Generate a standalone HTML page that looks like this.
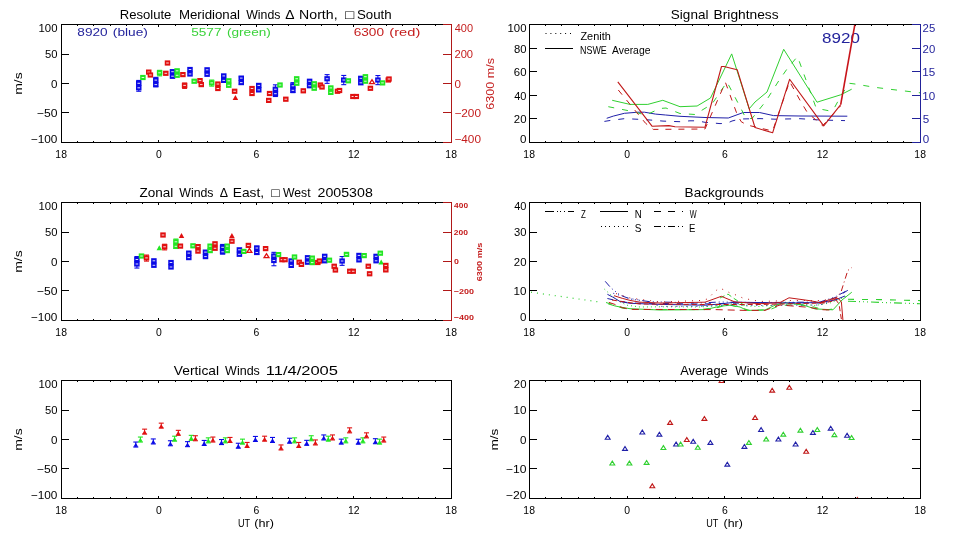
<!DOCTYPE html>
<html><head><meta charset="utf-8"><title>Resolute Winds</title>
<style>
html,body{margin:0;padding:0;background:#fff;}
svg{display:block;}
text{font-family:"Liberation Sans","DejaVu Sans",sans-serif;}
</style></head>
<body>
<svg width="960" height="540" viewBox="0 0 960 540">
<rect width="960" height="540" fill="#fff"/>
<rect x="138.25" y="80.40" width="1" height="10.80" fill="#0a0ae6"/>
<rect x="136.25" y="79.90" width="5" height="1.1" fill="#0a0ae6"/>
<rect x="136.25" y="90.70" width="5" height="1.1" fill="#0a0ae6"/>
<rect x="136.00" y="80.70" width="5.50" height="5.20" fill="#0a0ae6"/>
<rect x="137.45" y="82.80" width="2.6" height="1" fill="#fff" opacity="0.85"/>
<rect x="136.00" y="85.20" width="5.50" height="5.20" fill="#0a0ae6"/>
<rect x="137.45" y="87.30" width="2.6" height="1" fill="#fff" opacity="0.85"/>
<rect x="140.15" y="74.90" width="5.50" height="5.20" fill="#22e622"/>
<rect x="141.60" y="77.00" width="2.6" height="1" fill="#fff" opacity="0.85"/>
<rect x="146.00" y="69.50" width="5.50" height="5.20" fill="#e01010"/>
<rect x="147.45" y="71.60" width="2.6" height="1" fill="#fff" opacity="0.85"/>
<rect x="147.65" y="72.40" width="5.50" height="5.20" fill="#e01010"/>
<rect x="149.10" y="74.50" width="2.6" height="1" fill="#fff" opacity="0.85"/>
<rect x="155.30" y="77.30" width="1" height="9.42" fill="#0a0ae6"/>
<rect x="153.30" y="76.80" width="5" height="1.1" fill="#0a0ae6"/>
<rect x="153.30" y="86.22" width="5" height="1.1" fill="#0a0ae6"/>
<rect x="153.05" y="77.50" width="5.50" height="5.20" fill="#0a0ae6"/>
<rect x="154.50" y="79.60" width="2.6" height="1" fill="#fff" opacity="0.85"/>
<rect x="153.05" y="82.00" width="5.50" height="5.20" fill="#0a0ae6"/>
<rect x="154.50" y="84.10" width="2.6" height="1" fill="#fff" opacity="0.85"/>
<rect x="159.10" y="70.30" width="1" height="5.50" fill="#22e622"/>
<rect x="157.10" y="69.80" width="5" height="1.1" fill="#22e622"/>
<rect x="157.10" y="75.30" width="5" height="1.1" fill="#22e622"/>
<rect x="156.85" y="70.20" width="5.50" height="5.20" fill="#22e622"/>
<rect x="158.30" y="72.30" width="2.6" height="1" fill="#fff" opacity="0.85"/>
<rect x="163.05" y="70.70" width="5.50" height="5.20" fill="#e01010"/>
<rect x="164.50" y="72.80" width="2.6" height="1" fill="#fff" opacity="0.85"/>
<rect x="164.75" y="60.40" width="5.50" height="5.20" fill="#e01010"/>
<rect x="166.20" y="62.50" width="2.6" height="1" fill="#fff" opacity="0.85"/>
<rect x="172.00" y="70.00" width="1" height="7.88" fill="#0a0ae6"/>
<rect x="170.00" y="69.50" width="5" height="1.1" fill="#0a0ae6"/>
<rect x="170.00" y="77.38" width="5" height="1.1" fill="#0a0ae6"/>
<rect x="169.75" y="69.10" width="5.50" height="5.20" fill="#0a0ae6"/>
<rect x="171.20" y="71.20" width="2.6" height="1" fill="#fff" opacity="0.85"/>
<rect x="169.75" y="73.60" width="5.50" height="5.20" fill="#0a0ae6"/>
<rect x="171.20" y="75.70" width="2.6" height="1" fill="#fff" opacity="0.85"/>
<rect x="174.35" y="68.20" width="5.50" height="5.20" fill="#22e622"/>
<rect x="175.80" y="70.30" width="2.6" height="1" fill="#fff" opacity="0.85"/>
<rect x="174.35" y="72.70" width="5.50" height="5.20" fill="#22e622"/>
<rect x="175.80" y="74.80" width="2.6" height="1" fill="#fff" opacity="0.85"/>
<rect x="180.15" y="72.00" width="5.50" height="5.20" fill="#e01010"/>
<rect x="181.60" y="74.10" width="2.6" height="1" fill="#fff" opacity="0.85"/>
<rect x="187.25" y="66.90" width="5.50" height="5.20" fill="#0a0ae6"/>
<rect x="188.70" y="69.00" width="2.6" height="1" fill="#fff" opacity="0.85"/>
<rect x="187.25" y="71.40" width="5.50" height="5.20" fill="#0a0ae6"/>
<rect x="188.70" y="73.50" width="2.6" height="1" fill="#fff" opacity="0.85"/>
<rect x="184.10" y="83.00" width="1" height="5.36" fill="#e01010"/>
<rect x="182.10" y="82.50" width="5" height="1.1" fill="#e01010"/>
<rect x="182.10" y="87.86" width="5" height="1.1" fill="#e01010"/>
<rect x="181.85" y="82.80" width="5.50" height="5.20" fill="#e01010"/>
<rect x="183.30" y="84.90" width="2.6" height="1" fill="#fff" opacity="0.85"/>
<rect x="191.45" y="78.65" width="5.50" height="5.20" fill="#22e622"/>
<rect x="192.90" y="80.75" width="2.6" height="1" fill="#fff" opacity="0.85"/>
<rect x="197.25" y="78.00" width="5.50" height="5.20" fill="#e01010"/>
<rect x="198.70" y="80.10" width="2.6" height="1" fill="#fff" opacity="0.85"/>
<rect x="198.50" y="82.00" width="5.50" height="5.20" fill="#e01010"/>
<rect x="199.95" y="84.10" width="2.6" height="1" fill="#fff" opacity="0.85"/>
<rect x="204.35" y="67.20" width="5.50" height="5.20" fill="#0a0ae6"/>
<rect x="205.80" y="69.30" width="2.6" height="1" fill="#fff" opacity="0.85"/>
<rect x="204.35" y="71.70" width="5.50" height="5.20" fill="#0a0ae6"/>
<rect x="205.80" y="73.80" width="2.6" height="1" fill="#fff" opacity="0.85"/>
<rect x="211.20" y="80.00" width="1" height="6.06" fill="#22e622"/>
<rect x="209.20" y="79.50" width="5" height="1.1" fill="#22e622"/>
<rect x="209.20" y="85.56" width="5" height="1.1" fill="#22e622"/>
<rect x="208.95" y="80.30" width="5.50" height="5.20" fill="#22e622"/>
<rect x="210.40" y="82.40" width="2.6" height="1" fill="#fff" opacity="0.85"/>
<rect x="215.15" y="81.40" width="5.50" height="5.20" fill="#e01010"/>
<rect x="216.60" y="83.50" width="2.6" height="1" fill="#fff" opacity="0.85"/>
<rect x="215.15" y="85.90" width="5.50" height="5.20" fill="#e01010"/>
<rect x="216.60" y="88.00" width="2.6" height="1" fill="#fff" opacity="0.85"/>
<rect x="221.00" y="73.30" width="5.50" height="5.20" fill="#0a0ae6"/>
<rect x="222.45" y="75.40" width="2.6" height="1" fill="#fff" opacity="0.85"/>
<rect x="221.00" y="77.80" width="5.50" height="5.20" fill="#0a0ae6"/>
<rect x="222.45" y="79.90" width="2.6" height="1" fill="#fff" opacity="0.85"/>
<rect x="226.00" y="78.20" width="5.50" height="5.20" fill="#22e622"/>
<rect x="227.45" y="80.30" width="2.6" height="1" fill="#fff" opacity="0.85"/>
<rect x="226.00" y="82.70" width="5.50" height="5.20" fill="#22e622"/>
<rect x="227.45" y="84.80" width="2.6" height="1" fill="#fff" opacity="0.85"/>
<rect x="231.85" y="88.65" width="5.50" height="5.20" fill="#e01010"/>
<rect x="233.30" y="90.75" width="2.6" height="1" fill="#fff" opacity="0.85"/>
<polygon points="232.65,100.00 238.15,100.00 235.40,95.00" fill="#e01010"/>
<rect x="240.75" y="76.80" width="1" height="7.32" fill="#0a0ae6"/>
<rect x="238.75" y="76.30" width="5" height="1.1" fill="#0a0ae6"/>
<rect x="238.75" y="83.62" width="5" height="1.1" fill="#0a0ae6"/>
<rect x="238.50" y="75.50" width="5.50" height="5.20" fill="#0a0ae6"/>
<rect x="239.95" y="77.60" width="2.6" height="1" fill="#fff" opacity="0.85"/>
<rect x="238.50" y="80.00" width="5.50" height="5.20" fill="#0a0ae6"/>
<rect x="239.95" y="82.10" width="2.6" height="1" fill="#fff" opacity="0.85"/>
<rect x="249.25" y="85.90" width="5.50" height="5.20" fill="#e01010"/>
<rect x="250.70" y="88.00" width="2.6" height="1" fill="#fff" opacity="0.85"/>
<rect x="249.25" y="90.90" width="5.50" height="5.20" fill="#e01010"/>
<rect x="250.70" y="93.00" width="2.6" height="1" fill="#fff" opacity="0.85"/>
<rect x="256.00" y="82.80" width="5.50" height="5.20" fill="#0a0ae6"/>
<rect x="257.45" y="84.90" width="2.6" height="1" fill="#fff" opacity="0.85"/>
<rect x="256.00" y="87.30" width="5.50" height="5.20" fill="#0a0ae6"/>
<rect x="257.45" y="89.40" width="2.6" height="1" fill="#fff" opacity="0.85"/>
<rect x="266.85" y="90.90" width="5.50" height="5.20" fill="#e01010"/>
<rect x="268.30" y="93.00" width="2.6" height="1" fill="#fff" opacity="0.85"/>
<rect x="266.00" y="97.80" width="5.50" height="5.20" fill="#e01010"/>
<rect x="267.45" y="99.90" width="2.6" height="1" fill="#fff" opacity="0.85"/>
<rect x="274.90" y="84.80" width="1" height="11.66" fill="#0a0ae6"/>
<rect x="272.90" y="84.30" width="5" height="1.1" fill="#0a0ae6"/>
<rect x="272.90" y="95.96" width="5" height="1.1" fill="#0a0ae6"/>
<rect x="272.65" y="86.60" width="5.50" height="5.20" fill="#0a0ae6"/>
<rect x="274.10" y="88.70" width="2.6" height="1" fill="#fff" opacity="0.85"/>
<rect x="272.65" y="91.10" width="5.50" height="5.20" fill="#0a0ae6"/>
<rect x="274.10" y="93.20" width="2.6" height="1" fill="#fff" opacity="0.85"/>
<rect x="277.25" y="82.40" width="5.50" height="5.20" fill="#22e622"/>
<rect x="278.70" y="84.50" width="2.6" height="1" fill="#fff" opacity="0.85"/>
<rect x="283.05" y="96.60" width="5.50" height="5.20" fill="#e01010"/>
<rect x="284.50" y="98.70" width="2.6" height="1" fill="#fff" opacity="0.85"/>
<rect x="292.40" y="82.60" width="1" height="9.98" fill="#0a0ae6"/>
<rect x="290.40" y="82.10" width="5" height="1.1" fill="#0a0ae6"/>
<rect x="290.40" y="92.08" width="5" height="1.1" fill="#0a0ae6"/>
<rect x="290.15" y="83.20" width="5.50" height="5.20" fill="#0a0ae6"/>
<rect x="291.60" y="85.30" width="2.6" height="1" fill="#fff" opacity="0.85"/>
<rect x="290.15" y="87.70" width="5.50" height="5.20" fill="#0a0ae6"/>
<rect x="291.60" y="89.80" width="2.6" height="1" fill="#fff" opacity="0.85"/>
<rect x="293.95" y="76.15" width="5.50" height="5.20" fill="#22e622"/>
<rect x="295.40" y="78.25" width="2.6" height="1" fill="#fff" opacity="0.85"/>
<rect x="293.95" y="80.65" width="5.50" height="5.20" fill="#22e622"/>
<rect x="295.40" y="82.75" width="2.6" height="1" fill="#fff" opacity="0.85"/>
<rect x="300.55" y="88.20" width="5.50" height="5.20" fill="#e01010"/>
<rect x="302.00" y="90.30" width="2.6" height="1" fill="#fff" opacity="0.85"/>
<rect x="306.85" y="78.65" width="5.50" height="5.20" fill="#0a0ae6"/>
<rect x="308.30" y="80.75" width="2.6" height="1" fill="#fff" opacity="0.85"/>
<rect x="306.85" y="83.15" width="5.50" height="5.20" fill="#0a0ae6"/>
<rect x="308.30" y="85.25" width="2.6" height="1" fill="#fff" opacity="0.85"/>
<rect x="311.45" y="81.15" width="5.50" height="5.20" fill="#22e622"/>
<rect x="312.90" y="83.25" width="2.6" height="1" fill="#fff" opacity="0.85"/>
<rect x="311.45" y="85.65" width="5.50" height="5.20" fill="#22e622"/>
<rect x="312.90" y="87.75" width="2.6" height="1" fill="#fff" opacity="0.85"/>
<rect x="317.65" y="82.40" width="5.50" height="5.20" fill="#e01010"/>
<rect x="319.10" y="84.50" width="2.6" height="1" fill="#fff" opacity="0.85"/>
<rect x="319.25" y="84.40" width="5.50" height="5.20" fill="#e01010"/>
<rect x="320.70" y="86.50" width="2.6" height="1" fill="#fff" opacity="0.85"/>
<rect x="326.60" y="74.60" width="1" height="8.70" fill="#0a0ae6"/>
<rect x="324.60" y="74.10" width="5" height="1.1" fill="#0a0ae6"/>
<rect x="324.60" y="82.80" width="5" height="1.1" fill="#0a0ae6"/>
<rect x="324.35" y="76.15" width="5.50" height="5.20" fill="#0a0ae6"/>
<rect x="325.80" y="78.25" width="2.6" height="1" fill="#fff" opacity="0.85"/>
<rect x="328.05" y="85.30" width="5.50" height="5.20" fill="#22e622"/>
<rect x="329.50" y="87.40" width="2.6" height="1" fill="#fff" opacity="0.85"/>
<rect x="328.05" y="89.80" width="5.50" height="5.20" fill="#22e622"/>
<rect x="329.50" y="91.90" width="2.6" height="1" fill="#fff" opacity="0.85"/>
<rect x="334.75" y="88.65" width="5.50" height="5.20" fill="#e01010"/>
<rect x="336.20" y="90.75" width="2.6" height="1" fill="#fff" opacity="0.85"/>
<rect x="336.75" y="87.90" width="5.50" height="5.20" fill="#e01010"/>
<rect x="338.20" y="90.00" width="2.6" height="1" fill="#fff" opacity="0.85"/>
<rect x="343.25" y="75.40" width="1" height="9.20" fill="#0a0ae6"/>
<rect x="341.25" y="74.90" width="5" height="1.1" fill="#0a0ae6"/>
<rect x="341.25" y="84.10" width="5" height="1.1" fill="#0a0ae6"/>
<rect x="341.00" y="77.40" width="5.50" height="5.20" fill="#0a0ae6"/>
<rect x="342.45" y="79.50" width="2.6" height="1" fill="#fff" opacity="0.85"/>
<rect x="345.55" y="78.20" width="5.50" height="5.20" fill="#22e622"/>
<rect x="347.00" y="80.30" width="2.6" height="1" fill="#fff" opacity="0.85"/>
<rect x="350.15" y="93.90" width="5.50" height="5.20" fill="#e01010"/>
<rect x="351.60" y="96.00" width="2.6" height="1" fill="#fff" opacity="0.85"/>
<rect x="353.55" y="93.90" width="5.50" height="5.20" fill="#e01010"/>
<rect x="355.00" y="96.00" width="2.6" height="1" fill="#fff" opacity="0.85"/>
<rect x="358.05" y="75.70" width="5.50" height="5.20" fill="#0a0ae6"/>
<rect x="359.50" y="77.80" width="2.6" height="1" fill="#fff" opacity="0.85"/>
<rect x="358.05" y="80.20" width="5.50" height="5.20" fill="#0a0ae6"/>
<rect x="359.50" y="82.30" width="2.6" height="1" fill="#fff" opacity="0.85"/>
<rect x="362.65" y="74.10" width="5.50" height="5.20" fill="#22e622"/>
<rect x="364.10" y="76.20" width="2.6" height="1" fill="#fff" opacity="0.85"/>
<rect x="362.65" y="78.60" width="5.50" height="5.20" fill="#22e622"/>
<rect x="364.10" y="80.70" width="2.6" height="1" fill="#fff" opacity="0.85"/>
<polygon points="369.55,83.65 374.45,83.65 372.00,79.75" fill="none" stroke="#e01010" stroke-width="1.3"/>
<rect x="367.65" y="85.70" width="5.50" height="5.20" fill="#e01010"/>
<rect x="369.10" y="87.80" width="2.6" height="1" fill="#fff" opacity="0.85"/>
<rect x="377.40" y="75.50" width="1" height="9.10" fill="#0a0ae6"/>
<rect x="375.40" y="75.00" width="5" height="1.1" fill="#0a0ae6"/>
<rect x="375.40" y="84.10" width="5" height="1.1" fill="#0a0ae6"/>
<rect x="375.15" y="77.40" width="5.50" height="5.20" fill="#0a0ae6"/>
<rect x="376.60" y="79.50" width="2.6" height="1" fill="#fff" opacity="0.85"/>
<rect x="379.75" y="80.30" width="5.50" height="5.20" fill="#22e622"/>
<rect x="381.20" y="82.40" width="2.6" height="1" fill="#fff" opacity="0.85"/>
<rect x="385.55" y="77.40" width="5.50" height="5.20" fill="#e01010"/>
<rect x="387.00" y="79.50" width="2.6" height="1" fill="#fff" opacity="0.85"/>
<rect x="386.25" y="76.40" width="5.50" height="5.20" fill="#e01010"/>
<rect x="387.70" y="78.50" width="2.6" height="1" fill="#fff" opacity="0.85"/>
<rect x="136.40" y="256.50" width="1" height="11.50" fill="#0a0ae6"/>
<rect x="134.40" y="256.00" width="5" height="1.1" fill="#0a0ae6"/>
<rect x="134.40" y="267.50" width="5" height="1.1" fill="#0a0ae6"/>
<rect x="134.15" y="256.90" width="5.50" height="5.20" fill="#0a0ae6"/>
<rect x="135.60" y="259.00" width="2.6" height="1" fill="#fff" opacity="0.85"/>
<rect x="134.15" y="261.40" width="5.50" height="5.20" fill="#0a0ae6"/>
<rect x="135.60" y="263.50" width="2.6" height="1" fill="#fff" opacity="0.85"/>
<rect x="138.75" y="253.40" width="5.50" height="5.20" fill="#22e622"/>
<rect x="140.20" y="255.50" width="2.6" height="1" fill="#fff" opacity="0.85"/>
<rect x="146.00" y="255.00" width="1" height="6.06" fill="#e01010"/>
<rect x="144.00" y="254.50" width="5" height="1.1" fill="#e01010"/>
<rect x="144.00" y="260.56" width="5" height="1.1" fill="#e01010"/>
<rect x="143.75" y="255.30" width="5.50" height="5.20" fill="#e01010"/>
<rect x="145.20" y="257.40" width="2.6" height="1" fill="#fff" opacity="0.85"/>
<rect x="151.15" y="258.20" width="5.50" height="5.20" fill="#0a0ae6"/>
<rect x="152.60" y="260.30" width="2.6" height="1" fill="#fff" opacity="0.85"/>
<rect x="151.15" y="262.70" width="5.50" height="5.20" fill="#0a0ae6"/>
<rect x="152.60" y="264.80" width="2.6" height="1" fill="#fff" opacity="0.85"/>
<polygon points="156.55,250.20 162.05,250.20 159.30,245.20" fill="#22e622"/>
<rect x="164.10" y="244.20" width="1" height="5.64" fill="#e01010"/>
<rect x="162.10" y="243.70" width="5" height="1.1" fill="#e01010"/>
<rect x="162.10" y="249.34" width="5" height="1.1" fill="#e01010"/>
<rect x="161.85" y="244.20" width="5.50" height="5.20" fill="#e01010"/>
<rect x="163.30" y="246.30" width="2.6" height="1" fill="#fff" opacity="0.85"/>
<rect x="160.25" y="232.40" width="5.50" height="5.20" fill="#e01010"/>
<rect x="161.70" y="234.50" width="2.6" height="1" fill="#fff" opacity="0.85"/>
<rect x="168.25" y="259.90" width="5.50" height="5.20" fill="#0a0ae6"/>
<rect x="169.70" y="262.00" width="2.6" height="1" fill="#fff" opacity="0.85"/>
<rect x="168.25" y="264.40" width="5.50" height="5.20" fill="#0a0ae6"/>
<rect x="169.70" y="266.50" width="2.6" height="1" fill="#fff" opacity="0.85"/>
<rect x="175.40" y="239.00" width="1" height="9.42" fill="#22e622"/>
<rect x="173.40" y="238.50" width="5" height="1.1" fill="#22e622"/>
<rect x="173.40" y="247.92" width="5" height="1.1" fill="#22e622"/>
<rect x="173.15" y="239.20" width="5.50" height="5.20" fill="#22e622"/>
<rect x="174.60" y="241.30" width="2.6" height="1" fill="#fff" opacity="0.85"/>
<rect x="173.15" y="243.70" width="5.50" height="5.20" fill="#22e622"/>
<rect x="174.60" y="245.80" width="2.6" height="1" fill="#fff" opacity="0.85"/>
<rect x="177.65" y="243.50" width="5.50" height="5.20" fill="#e01010"/>
<rect x="179.10" y="245.60" width="2.6" height="1" fill="#fff" opacity="0.85"/>
<polygon points="178.75,238.10 184.25,238.10 181.50,233.10" fill="#e01010"/>
<rect x="186.05" y="250.50" width="5.50" height="5.20" fill="#0a0ae6"/>
<rect x="187.50" y="252.60" width="2.6" height="1" fill="#fff" opacity="0.85"/>
<rect x="186.05" y="255.00" width="5.50" height="5.20" fill="#0a0ae6"/>
<rect x="187.50" y="257.10" width="2.6" height="1" fill="#fff" opacity="0.85"/>
<rect x="190.25" y="243.20" width="5.50" height="5.20" fill="#22e622"/>
<rect x="191.70" y="245.30" width="2.6" height="1" fill="#fff" opacity="0.85"/>
<rect x="195.25" y="244.00" width="5.50" height="5.20" fill="#e01010"/>
<rect x="196.70" y="246.10" width="2.6" height="1" fill="#fff" opacity="0.85"/>
<rect x="195.25" y="248.50" width="5.50" height="5.20" fill="#e01010"/>
<rect x="196.70" y="250.60" width="2.6" height="1" fill="#fff" opacity="0.85"/>
<rect x="202.75" y="249.50" width="5.50" height="5.20" fill="#0a0ae6"/>
<rect x="204.20" y="251.60" width="2.6" height="1" fill="#fff" opacity="0.85"/>
<rect x="202.75" y="254.00" width="5.50" height="5.20" fill="#0a0ae6"/>
<rect x="204.20" y="256.10" width="2.6" height="1" fill="#fff" opacity="0.85"/>
<rect x="207.35" y="243.50" width="5.50" height="5.20" fill="#22e622"/>
<rect x="208.80" y="245.60" width="2.6" height="1" fill="#fff" opacity="0.85"/>
<rect x="207.35" y="248.00" width="5.50" height="5.20" fill="#22e622"/>
<rect x="208.80" y="250.10" width="2.6" height="1" fill="#fff" opacity="0.85"/>
<rect x="212.25" y="241.20" width="5.50" height="5.20" fill="#e01010"/>
<rect x="213.70" y="243.30" width="2.6" height="1" fill="#fff" opacity="0.85"/>
<rect x="212.25" y="245.70" width="5.50" height="5.20" fill="#e01010"/>
<rect x="213.70" y="247.80" width="2.6" height="1" fill="#fff" opacity="0.85"/>
<rect x="222.10" y="244.40" width="1" height="9.56" fill="#0a0ae6"/>
<rect x="220.10" y="243.90" width="5" height="1.1" fill="#0a0ae6"/>
<rect x="220.10" y="253.46" width="5" height="1.1" fill="#0a0ae6"/>
<rect x="219.85" y="244.70" width="5.50" height="5.20" fill="#0a0ae6"/>
<rect x="221.30" y="246.80" width="2.6" height="1" fill="#fff" opacity="0.85"/>
<rect x="219.85" y="249.20" width="5.50" height="5.20" fill="#0a0ae6"/>
<rect x="221.30" y="251.30" width="2.6" height="1" fill="#fff" opacity="0.85"/>
<rect x="224.45" y="243.50" width="5.50" height="5.20" fill="#22e622"/>
<rect x="225.90" y="245.60" width="2.6" height="1" fill="#fff" opacity="0.85"/>
<rect x="224.45" y="248.00" width="5.50" height="5.20" fill="#22e622"/>
<rect x="225.90" y="250.10" width="2.6" height="1" fill="#fff" opacity="0.85"/>
<polygon points="229.15,237.90 234.65,237.90 231.90,232.90" fill="#e01010"/>
<rect x="229.15" y="238.60" width="5.50" height="5.20" fill="#e01010"/>
<rect x="230.60" y="240.70" width="2.6" height="1" fill="#fff" opacity="0.85"/>
<rect x="236.65" y="247.20" width="5.50" height="5.20" fill="#0a0ae6"/>
<rect x="238.10" y="249.30" width="2.6" height="1" fill="#fff" opacity="0.85"/>
<rect x="236.65" y="251.70" width="5.50" height="5.20" fill="#0a0ae6"/>
<rect x="238.10" y="253.80" width="2.6" height="1" fill="#fff" opacity="0.85"/>
<rect x="241.05" y="248.80" width="5.50" height="5.20" fill="#22e622"/>
<rect x="242.50" y="250.90" width="2.6" height="1" fill="#fff" opacity="0.85"/>
<rect x="245.65" y="242.80" width="5.50" height="5.20" fill="#e01010"/>
<rect x="247.10" y="244.90" width="2.6" height="1" fill="#fff" opacity="0.85"/>
<polygon points="246.95,252.45 251.85,252.45 249.40,248.55" fill="none" stroke="#e01010" stroke-width="1.3"/>
<rect x="256.30" y="246.20" width="1" height="8.02" fill="#0a0ae6"/>
<rect x="254.30" y="245.70" width="5" height="1.1" fill="#0a0ae6"/>
<rect x="254.30" y="253.72" width="5" height="1.1" fill="#0a0ae6"/>
<rect x="254.05" y="245.40" width="5.50" height="5.20" fill="#0a0ae6"/>
<rect x="255.50" y="247.50" width="2.6" height="1" fill="#fff" opacity="0.85"/>
<rect x="254.05" y="249.90" width="5.50" height="5.20" fill="#0a0ae6"/>
<rect x="255.50" y="252.00" width="2.6" height="1" fill="#fff" opacity="0.85"/>
<rect x="262.85" y="246.00" width="5.50" height="5.20" fill="#e01010"/>
<rect x="264.30" y="248.10" width="2.6" height="1" fill="#fff" opacity="0.85"/>
<polygon points="264.05,257.55 268.95,257.55 266.50,253.65" fill="none" stroke="#e01010" stroke-width="1.3"/>
<rect x="273.40" y="252.30" width="1" height="13.40" fill="#0a0ae6"/>
<rect x="271.40" y="251.80" width="5" height="1.1" fill="#0a0ae6"/>
<rect x="271.40" y="265.20" width="5" height="1.1" fill="#0a0ae6"/>
<rect x="271.15" y="253.40" width="5.50" height="5.20" fill="#0a0ae6"/>
<rect x="272.60" y="255.50" width="2.6" height="1" fill="#fff" opacity="0.85"/>
<rect x="271.15" y="257.90" width="5.50" height="5.20" fill="#0a0ae6"/>
<rect x="272.60" y="260.00" width="2.6" height="1" fill="#fff" opacity="0.85"/>
<rect x="275.75" y="252.00" width="5.50" height="5.20" fill="#22e622"/>
<rect x="277.20" y="254.10" width="2.6" height="1" fill="#fff" opacity="0.85"/>
<rect x="279.25" y="257.10" width="5.50" height="5.20" fill="#e01010"/>
<rect x="280.70" y="259.20" width="2.6" height="1" fill="#fff" opacity="0.85"/>
<rect x="282.25" y="257.10" width="5.50" height="5.20" fill="#e01010"/>
<rect x="283.70" y="259.20" width="2.6" height="1" fill="#fff" opacity="0.85"/>
<rect x="288.45" y="258.30" width="5.50" height="5.20" fill="#0a0ae6"/>
<rect x="289.90" y="260.40" width="2.6" height="1" fill="#fff" opacity="0.85"/>
<rect x="288.45" y="262.80" width="5.50" height="5.20" fill="#0a0ae6"/>
<rect x="289.90" y="264.90" width="2.6" height="1" fill="#fff" opacity="0.85"/>
<rect x="291.75" y="254.40" width="5.50" height="5.20" fill="#22e622"/>
<rect x="293.20" y="256.50" width="2.6" height="1" fill="#fff" opacity="0.85"/>
<rect x="296.45" y="259.60" width="5.50" height="5.20" fill="#e01010"/>
<rect x="297.90" y="261.70" width="2.6" height="1" fill="#fff" opacity="0.85"/>
<rect x="298.65" y="261.80" width="5.50" height="5.20" fill="#e01010"/>
<rect x="300.10" y="263.90" width="2.6" height="1" fill="#fff" opacity="0.85"/>
<rect x="304.85" y="255.10" width="5.50" height="5.20" fill="#0a0ae6"/>
<rect x="306.30" y="257.20" width="2.6" height="1" fill="#fff" opacity="0.85"/>
<rect x="304.85" y="259.60" width="5.50" height="5.20" fill="#0a0ae6"/>
<rect x="306.30" y="261.70" width="2.6" height="1" fill="#fff" opacity="0.85"/>
<rect x="309.45" y="255.50" width="5.50" height="5.20" fill="#22e622"/>
<rect x="310.90" y="257.60" width="2.6" height="1" fill="#fff" opacity="0.85"/>
<rect x="309.45" y="260.00" width="5.50" height="5.20" fill="#22e622"/>
<rect x="310.90" y="262.10" width="2.6" height="1" fill="#fff" opacity="0.85"/>
<rect x="315.05" y="259.90" width="5.50" height="5.20" fill="#e01010"/>
<rect x="316.50" y="262.00" width="2.6" height="1" fill="#fff" opacity="0.85"/>
<rect x="316.75" y="258.40" width="5.50" height="5.20" fill="#e01010"/>
<rect x="318.20" y="260.50" width="2.6" height="1" fill="#fff" opacity="0.85"/>
<rect x="321.95" y="253.70" width="5.50" height="5.20" fill="#0a0ae6"/>
<rect x="323.40" y="255.80" width="2.6" height="1" fill="#fff" opacity="0.85"/>
<rect x="321.95" y="258.20" width="5.50" height="5.20" fill="#0a0ae6"/>
<rect x="323.40" y="260.30" width="2.6" height="1" fill="#fff" opacity="0.85"/>
<rect x="326.65" y="257.60" width="5.50" height="5.20" fill="#22e622"/>
<rect x="328.10" y="259.70" width="2.6" height="1" fill="#fff" opacity="0.85"/>
<rect x="331.45" y="263.65" width="5.50" height="5.20" fill="#e01010"/>
<rect x="332.90" y="265.75" width="2.6" height="1" fill="#fff" opacity="0.85"/>
<rect x="332.65" y="267.40" width="5.50" height="5.20" fill="#e01010"/>
<rect x="334.10" y="269.50" width="2.6" height="1" fill="#fff" opacity="0.85"/>
<rect x="341.60" y="256.50" width="1" height="8.80" fill="#0a0ae6"/>
<rect x="339.60" y="256.00" width="5" height="1.1" fill="#0a0ae6"/>
<rect x="339.60" y="264.80" width="5" height="1.1" fill="#0a0ae6"/>
<rect x="339.35" y="258.40" width="5.50" height="5.20" fill="#0a0ae6"/>
<rect x="340.80" y="260.50" width="2.6" height="1" fill="#fff" opacity="0.85"/>
<rect x="343.75" y="251.80" width="5.50" height="5.20" fill="#22e622"/>
<rect x="345.20" y="253.90" width="2.6" height="1" fill="#fff" opacity="0.85"/>
<rect x="347.05" y="268.65" width="5.50" height="5.20" fill="#e01010"/>
<rect x="348.50" y="270.75" width="2.6" height="1" fill="#fff" opacity="0.85"/>
<rect x="350.45" y="268.65" width="5.50" height="5.20" fill="#e01010"/>
<rect x="351.90" y="270.75" width="2.6" height="1" fill="#fff" opacity="0.85"/>
<rect x="356.25" y="252.80" width="5.50" height="5.20" fill="#0a0ae6"/>
<rect x="357.70" y="254.90" width="2.6" height="1" fill="#fff" opacity="0.85"/>
<rect x="356.25" y="257.30" width="5.50" height="5.20" fill="#0a0ae6"/>
<rect x="357.70" y="259.40" width="2.6" height="1" fill="#fff" opacity="0.85"/>
<rect x="361.35" y="253.00" width="5.50" height="5.20" fill="#22e622"/>
<rect x="362.80" y="255.10" width="2.6" height="1" fill="#fff" opacity="0.85"/>
<rect x="365.55" y="263.65" width="5.50" height="5.20" fill="#e01010"/>
<rect x="367.00" y="265.75" width="2.6" height="1" fill="#fff" opacity="0.85"/>
<rect x="366.85" y="271.15" width="5.50" height="5.20" fill="#e01010"/>
<rect x="368.30" y="273.25" width="2.6" height="1" fill="#fff" opacity="0.85"/>
<rect x="373.35" y="253.70" width="5.50" height="5.20" fill="#0a0ae6"/>
<rect x="374.80" y="255.80" width="2.6" height="1" fill="#fff" opacity="0.85"/>
<rect x="373.35" y="258.20" width="5.50" height="5.20" fill="#0a0ae6"/>
<rect x="374.80" y="260.30" width="2.6" height="1" fill="#fff" opacity="0.85"/>
<rect x="377.55" y="250.60" width="5.50" height="5.20" fill="#22e622"/>
<rect x="379.00" y="252.70" width="2.6" height="1" fill="#fff" opacity="0.85"/>
<polygon points="378.45,264.50 383.95,264.50 381.20,259.50" fill="#22e622"/>
<rect x="383.05" y="262.80" width="5.50" height="5.20" fill="#e01010"/>
<rect x="384.50" y="264.90" width="2.6" height="1" fill="#fff" opacity="0.85"/>
<rect x="383.05" y="267.30" width="5.50" height="5.20" fill="#e01010"/>
<rect x="384.50" y="269.40" width="2.6" height="1" fill="#fff" opacity="0.85"/>
<rect x="135.30" y="442.00" width="1" height="5.00" fill="#0a0ae6"/>
<rect x="133.30" y="441.50" width="5" height="1.1" fill="#0a0ae6"/>
<rect x="133.30" y="446.50" width="5" height="1.1" fill="#0a0ae6"/>
<polygon points="133.50,446.80 138.10,446.80 135.80,442.80" fill="#0a0ae6"/>
<rect x="139.90" y="437.00" width="1" height="5.00" fill="#22e622"/>
<rect x="137.90" y="436.50" width="5" height="1.1" fill="#22e622"/>
<rect x="137.90" y="441.50" width="5" height="1.1" fill="#22e622"/>
<polygon points="138.10,441.80 142.70,441.80 140.40,437.80" fill="#22e622"/>
<rect x="144.10" y="429.10" width="1" height="5.00" fill="#e01010"/>
<rect x="142.10" y="428.60" width="5" height="1.1" fill="#e01010"/>
<rect x="142.10" y="433.60" width="5" height="1.1" fill="#e01010"/>
<polygon points="142.30,433.90 146.90,433.90 144.60,429.90" fill="#e01010"/>
<rect x="152.80" y="438.90" width="1" height="5.00" fill="#0a0ae6"/>
<rect x="150.80" y="438.40" width="5" height="1.1" fill="#0a0ae6"/>
<rect x="150.80" y="443.40" width="5" height="1.1" fill="#0a0ae6"/>
<polygon points="151.00,443.70 155.60,443.70 153.30,439.70" fill="#0a0ae6"/>
<rect x="160.75" y="423.10" width="1" height="5.00" fill="#e01010"/>
<rect x="158.75" y="422.60" width="5" height="1.1" fill="#e01010"/>
<rect x="158.75" y="427.60" width="5" height="1.1" fill="#e01010"/>
<polygon points="158.95,427.90 163.55,427.90 161.25,423.90" fill="#e01010"/>
<rect x="169.90" y="440.70" width="1" height="5.00" fill="#0a0ae6"/>
<rect x="167.90" y="440.20" width="5" height="1.1" fill="#0a0ae6"/>
<rect x="167.90" y="445.20" width="5" height="1.1" fill="#0a0ae6"/>
<polygon points="168.10,445.50 172.70,445.50 170.40,441.50" fill="#0a0ae6"/>
<rect x="174.10" y="436.15" width="1" height="5.00" fill="#22e622"/>
<rect x="172.10" y="435.65" width="5" height="1.1" fill="#22e622"/>
<rect x="172.10" y="440.65" width="5" height="1.1" fill="#22e622"/>
<polygon points="172.30,440.95 176.90,440.95 174.60,436.95" fill="#22e622"/>
<rect x="177.80" y="430.30" width="1" height="5.00" fill="#e01010"/>
<rect x="175.80" y="429.80" width="5" height="1.1" fill="#e01010"/>
<rect x="175.80" y="434.80" width="5" height="1.1" fill="#e01010"/>
<polygon points="176.00,435.10 180.60,435.10 178.30,431.10" fill="#e01010"/>
<rect x="187.00" y="441.60" width="1" height="5.00" fill="#0a0ae6"/>
<rect x="185.00" y="441.10" width="5" height="1.1" fill="#0a0ae6"/>
<rect x="185.00" y="446.10" width="5" height="1.1" fill="#0a0ae6"/>
<polygon points="185.20,446.40 189.80,446.40 187.50,442.40" fill="#0a0ae6"/>
<rect x="190.75" y="435.30" width="1" height="5.00" fill="#22e622"/>
<rect x="188.75" y="434.80" width="5" height="1.1" fill="#22e622"/>
<rect x="188.75" y="439.80" width="5" height="1.1" fill="#22e622"/>
<polygon points="188.95,440.10 193.55,440.10 191.25,436.10" fill="#22e622"/>
<rect x="194.90" y="435.70" width="1" height="5.00" fill="#e01010"/>
<rect x="192.90" y="435.20" width="5" height="1.1" fill="#e01010"/>
<rect x="192.90" y="440.20" width="5" height="1.1" fill="#e01010"/>
<polygon points="193.10,440.50 197.70,440.50 195.40,436.50" fill="#e01010"/>
<rect x="203.70" y="440.40" width="1" height="5.00" fill="#0a0ae6"/>
<rect x="201.70" y="439.90" width="5" height="1.1" fill="#0a0ae6"/>
<rect x="201.70" y="444.90" width="5" height="1.1" fill="#0a0ae6"/>
<polygon points="201.90,445.20 206.50,445.20 204.20,441.20" fill="#0a0ae6"/>
<rect x="207.80" y="437.80" width="1" height="5.00" fill="#22e622"/>
<rect x="205.80" y="437.30" width="5" height="1.1" fill="#22e622"/>
<rect x="205.80" y="442.30" width="5" height="1.1" fill="#22e622"/>
<polygon points="206.00,442.60 210.60,442.60 208.30,438.60" fill="#22e622"/>
<rect x="212.40" y="437.00" width="1" height="5.00" fill="#e01010"/>
<rect x="210.40" y="436.50" width="5" height="1.1" fill="#e01010"/>
<rect x="210.40" y="441.50" width="5" height="1.1" fill="#e01010"/>
<polygon points="210.60,441.80 215.20,441.80 212.90,437.80" fill="#e01010"/>
<rect x="221.00" y="439.50" width="1" height="5.00" fill="#0a0ae6"/>
<rect x="219.00" y="439.00" width="5" height="1.1" fill="#0a0ae6"/>
<rect x="219.00" y="444.00" width="5" height="1.1" fill="#0a0ae6"/>
<polygon points="219.20,444.30 223.80,444.30 221.50,440.30" fill="#0a0ae6"/>
<rect x="224.90" y="437.80" width="1" height="5.00" fill="#22e622"/>
<rect x="222.90" y="437.30" width="5" height="1.1" fill="#22e622"/>
<rect x="222.90" y="442.30" width="5" height="1.1" fill="#22e622"/>
<polygon points="223.10,442.60 227.70,442.60 225.40,438.60" fill="#22e622"/>
<rect x="229.50" y="437.40" width="1" height="5.00" fill="#e01010"/>
<rect x="227.50" y="436.90" width="5" height="1.1" fill="#e01010"/>
<rect x="227.50" y="441.90" width="5" height="1.1" fill="#e01010"/>
<polygon points="227.70,442.20 232.30,442.20 230.00,438.20" fill="#e01010"/>
<rect x="237.80" y="443.20" width="1" height="5.00" fill="#0a0ae6"/>
<rect x="235.80" y="442.70" width="5" height="1.1" fill="#0a0ae6"/>
<rect x="235.80" y="447.70" width="5" height="1.1" fill="#0a0ae6"/>
<polygon points="236.00,448.00 240.60,448.00 238.30,444.00" fill="#0a0ae6"/>
<rect x="242.00" y="439.10" width="1" height="5.00" fill="#22e622"/>
<rect x="240.00" y="438.60" width="5" height="1.1" fill="#22e622"/>
<rect x="240.00" y="443.60" width="5" height="1.1" fill="#22e622"/>
<polygon points="240.20,443.90 244.80,443.90 242.50,439.90" fill="#22e622"/>
<rect x="246.60" y="442.40" width="1" height="5.00" fill="#e01010"/>
<rect x="244.60" y="441.90" width="5" height="1.1" fill="#e01010"/>
<rect x="244.60" y="446.90" width="5" height="1.1" fill="#e01010"/>
<polygon points="244.80,447.20 249.40,447.20 247.10,443.20" fill="#e01010"/>
<rect x="254.90" y="436.40" width="1" height="5.00" fill="#0a0ae6"/>
<rect x="252.90" y="435.90" width="5" height="1.1" fill="#0a0ae6"/>
<rect x="252.90" y="440.90" width="5" height="1.1" fill="#0a0ae6"/>
<polygon points="253.10,441.20 257.70,441.20 255.40,437.20" fill="#0a0ae6"/>
<rect x="264.10" y="436.15" width="1" height="5.00" fill="#e01010"/>
<rect x="262.10" y="435.65" width="5" height="1.1" fill="#e01010"/>
<rect x="262.10" y="440.65" width="5" height="1.1" fill="#e01010"/>
<polygon points="262.30,440.95 266.90,440.95 264.60,436.95" fill="#e01010"/>
<rect x="272.00" y="437.40" width="1" height="5.00" fill="#0a0ae6"/>
<rect x="270.00" y="436.90" width="5" height="1.1" fill="#0a0ae6"/>
<rect x="270.00" y="441.90" width="5" height="1.1" fill="#0a0ae6"/>
<polygon points="270.20,442.20 274.80,442.20 272.50,438.20" fill="#0a0ae6"/>
<rect x="280.50" y="444.90" width="1" height="5.00" fill="#e01010"/>
<rect x="278.50" y="444.40" width="5" height="1.1" fill="#e01010"/>
<rect x="278.50" y="449.40" width="5" height="1.1" fill="#e01010"/>
<polygon points="278.70,449.70 283.30,449.70 281.00,445.70" fill="#e01010"/>
<rect x="289.10" y="438.20" width="1" height="5.00" fill="#0a0ae6"/>
<rect x="287.10" y="437.70" width="5" height="1.1" fill="#0a0ae6"/>
<rect x="287.10" y="442.70" width="5" height="1.1" fill="#0a0ae6"/>
<polygon points="287.30,443.00 291.90,443.00 289.60,439.00" fill="#0a0ae6"/>
<rect x="294.10" y="437.80" width="1" height="5.00" fill="#22e622"/>
<rect x="292.10" y="437.30" width="5" height="1.1" fill="#22e622"/>
<rect x="292.10" y="442.30" width="5" height="1.1" fill="#22e622"/>
<polygon points="292.30,442.60 296.90,442.60 294.60,438.60" fill="#22e622"/>
<rect x="298.25" y="442.40" width="1" height="5.00" fill="#e01010"/>
<rect x="296.25" y="441.90" width="5" height="1.1" fill="#e01010"/>
<rect x="296.25" y="446.90" width="5" height="1.1" fill="#e01010"/>
<polygon points="296.45,447.20 301.05,447.20 298.75,443.20" fill="#e01010"/>
<rect x="306.20" y="440.30" width="1" height="5.00" fill="#0a0ae6"/>
<rect x="304.20" y="439.80" width="5" height="1.1" fill="#0a0ae6"/>
<rect x="304.20" y="444.80" width="5" height="1.1" fill="#0a0ae6"/>
<polygon points="304.40,445.10 309.00,445.10 306.70,441.10" fill="#0a0ae6"/>
<rect x="310.75" y="435.70" width="1" height="5.00" fill="#22e622"/>
<rect x="308.75" y="435.20" width="5" height="1.1" fill="#22e622"/>
<rect x="308.75" y="440.20" width="5" height="1.1" fill="#22e622"/>
<polygon points="308.95,440.50 313.55,440.50 311.25,436.50" fill="#22e622"/>
<rect x="314.90" y="439.90" width="1" height="5.00" fill="#e01010"/>
<rect x="312.90" y="439.40" width="5" height="1.1" fill="#e01010"/>
<rect x="312.90" y="444.40" width="5" height="1.1" fill="#e01010"/>
<polygon points="313.10,444.70 317.70,444.70 315.40,440.70" fill="#e01010"/>
<rect x="323.25" y="434.90" width="1" height="5.00" fill="#0a0ae6"/>
<rect x="321.25" y="434.40" width="5" height="1.1" fill="#0a0ae6"/>
<rect x="321.25" y="439.40" width="5" height="1.1" fill="#0a0ae6"/>
<polygon points="321.45,439.70 326.05,439.70 323.75,435.70" fill="#0a0ae6"/>
<rect x="327.80" y="436.15" width="1" height="5.00" fill="#22e622"/>
<rect x="325.80" y="435.65" width="5" height="1.1" fill="#22e622"/>
<rect x="325.80" y="440.65" width="5" height="1.1" fill="#22e622"/>
<polygon points="326.00,440.95 330.60,440.95 328.30,436.95" fill="#22e622"/>
<rect x="332.00" y="434.90" width="1" height="5.00" fill="#e01010"/>
<rect x="330.00" y="434.40" width="5" height="1.1" fill="#e01010"/>
<rect x="330.00" y="439.40" width="5" height="1.1" fill="#e01010"/>
<polygon points="330.20,439.70 334.80,439.70 332.50,435.70" fill="#e01010"/>
<rect x="340.75" y="439.10" width="1" height="5.00" fill="#0a0ae6"/>
<rect x="338.75" y="438.60" width="5" height="1.1" fill="#0a0ae6"/>
<rect x="338.75" y="443.60" width="5" height="1.1" fill="#0a0ae6"/>
<polygon points="338.95,443.90 343.55,443.90 341.25,439.90" fill="#0a0ae6"/>
<rect x="345.30" y="437.80" width="1" height="5.00" fill="#22e622"/>
<rect x="343.30" y="437.30" width="5" height="1.1" fill="#22e622"/>
<rect x="343.30" y="442.30" width="5" height="1.1" fill="#22e622"/>
<polygon points="343.50,442.60 348.10,442.60 345.80,438.60" fill="#22e622"/>
<rect x="349.10" y="427.80" width="1" height="5.00" fill="#e01010"/>
<rect x="347.10" y="427.30" width="5" height="1.1" fill="#e01010"/>
<rect x="347.10" y="432.30" width="5" height="1.1" fill="#e01010"/>
<polygon points="347.30,432.60 351.90,432.60 349.60,428.60" fill="#e01010"/>
<rect x="357.80" y="439.20" width="1" height="5.00" fill="#0a0ae6"/>
<rect x="355.80" y="438.70" width="5" height="1.1" fill="#0a0ae6"/>
<rect x="355.80" y="443.70" width="5" height="1.1" fill="#0a0ae6"/>
<polygon points="356.00,444.00 360.60,444.00 358.30,440.00" fill="#0a0ae6"/>
<rect x="362.40" y="437.80" width="1" height="5.00" fill="#22e622"/>
<rect x="360.40" y="437.30" width="5" height="1.1" fill="#22e622"/>
<rect x="360.40" y="442.30" width="5" height="1.1" fill="#22e622"/>
<polygon points="360.60,442.60 365.20,442.60 362.90,438.60" fill="#22e622"/>
<rect x="366.00" y="432.80" width="1" height="5.00" fill="#e01010"/>
<rect x="364.00" y="432.30" width="5" height="1.1" fill="#e01010"/>
<rect x="364.00" y="437.30" width="5" height="1.1" fill="#e01010"/>
<polygon points="364.20,437.60 368.80,437.60 366.50,433.60" fill="#e01010"/>
<rect x="374.90" y="438.65" width="1" height="5.00" fill="#0a0ae6"/>
<rect x="372.90" y="438.15" width="5" height="1.1" fill="#0a0ae6"/>
<rect x="372.90" y="443.15" width="5" height="1.1" fill="#0a0ae6"/>
<polygon points="373.10,443.45 377.70,443.45 375.40,439.45" fill="#0a0ae6"/>
<rect x="379.10" y="439.10" width="1" height="5.00" fill="#22e622"/>
<rect x="377.10" y="438.60" width="5" height="1.1" fill="#22e622"/>
<rect x="377.10" y="443.60" width="5" height="1.1" fill="#22e622"/>
<polygon points="377.30,443.90 381.90,443.90 379.60,439.90" fill="#22e622"/>
<rect x="383.25" y="437.00" width="1" height="5.00" fill="#e01010"/>
<rect x="381.25" y="436.50" width="5" height="1.1" fill="#e01010"/>
<rect x="381.25" y="441.50" width="5" height="1.1" fill="#e01010"/>
<polygon points="381.45,441.80 386.05,441.80 383.75,437.80" fill="#e01010"/>
<clipPath id="c6"><rect x="529.5" y="380.5" width="391" height="118"/></clipPath>
<g clip-path="url(#c6)">
<polygon points="605.25,439.25 610.15,439.25 607.70,435.35" fill="none" stroke="#2020a8" stroke-width="1.1"/>
<polygon points="622.55,450.35 627.45,450.35 625.00,446.45" fill="none" stroke="#2020a8" stroke-width="1.1"/>
<polygon points="639.85,433.95 644.75,433.95 642.30,430.05" fill="none" stroke="#2020a8" stroke-width="1.1"/>
<polygon points="656.95,436.15 661.85,436.15 659.40,432.25" fill="none" stroke="#2020a8" stroke-width="1.1"/>
<polygon points="673.65,445.95 678.55,445.95 676.10,442.05" fill="none" stroke="#2020a8" stroke-width="1.1"/>
<polygon points="690.75,443.25 695.65,443.25 693.20,439.35" fill="none" stroke="#2020a8" stroke-width="1.1"/>
<polygon points="707.95,444.35 712.85,444.35 710.40,440.45" fill="none" stroke="#2020a8" stroke-width="1.1"/>
<polygon points="724.85,466.15 729.75,466.15 727.30,462.25" fill="none" stroke="#2020a8" stroke-width="1.1"/>
<polygon points="741.95,448.35 746.85,448.35 744.40,444.45" fill="none" stroke="#2020a8" stroke-width="1.1"/>
<polygon points="758.65,431.55 763.55,431.55 761.10,427.65" fill="none" stroke="#2020a8" stroke-width="1.1"/>
<polygon points="775.95,441.05 780.85,441.05 778.40,437.15" fill="none" stroke="#2020a8" stroke-width="1.1"/>
<polygon points="793.15,445.95 798.05,445.95 795.60,442.05" fill="none" stroke="#2020a8" stroke-width="1.1"/>
<polygon points="810.45,434.35 815.35,434.35 812.90,430.45" fill="none" stroke="#2020a8" stroke-width="1.1"/>
<polygon points="828.25,430.15 833.15,430.15 830.70,426.25" fill="none" stroke="#2020a8" stroke-width="1.1"/>
<polygon points="844.65,437.25 849.55,437.25 847.10,433.35" fill="none" stroke="#2020a8" stroke-width="1.1"/>
<polygon points="609.85,465.05 614.75,465.05 612.30,461.15" fill="none" stroke="#30d030" stroke-width="1.1"/>
<polygon points="626.95,465.05 631.85,465.05 629.40,461.15" fill="none" stroke="#30d030" stroke-width="1.1"/>
<polygon points="644.15,464.35 649.05,464.35 646.60,460.45" fill="none" stroke="#30d030" stroke-width="1.1"/>
<polygon points="660.95,449.55 665.85,449.55 663.40,445.65" fill="none" stroke="#30d030" stroke-width="1.1"/>
<polygon points="678.15,445.95 683.05,445.95 680.60,442.05" fill="none" stroke="#30d030" stroke-width="1.1"/>
<polygon points="695.35,449.25 700.25,449.25 697.80,445.35" fill="none" stroke="#30d030" stroke-width="1.1"/>
<polygon points="746.45,444.35 751.35,444.35 748.90,440.45" fill="none" stroke="#30d030" stroke-width="1.1"/>
<polygon points="763.75,441.05 768.65,441.05 766.20,437.15" fill="none" stroke="#30d030" stroke-width="1.1"/>
<polygon points="780.85,436.15 785.75,436.15 783.30,432.25" fill="none" stroke="#30d030" stroke-width="1.1"/>
<polygon points="797.95,432.15 802.85,432.15 800.40,428.25" fill="none" stroke="#30d030" stroke-width="1.1"/>
<polygon points="814.85,431.55 819.75,431.55 817.30,427.65" fill="none" stroke="#30d030" stroke-width="1.1"/>
<polygon points="831.95,436.65 836.85,436.65 834.40,432.75" fill="none" stroke="#30d030" stroke-width="1.1"/>
<polygon points="849.15,439.55 854.05,439.55 851.60,435.65" fill="none" stroke="#30d030" stroke-width="1.1"/>
<polygon points="649.85,487.75 654.75,487.75 652.30,483.85" fill="none" stroke="#c01818" stroke-width="1.1"/>
<polygon points="667.65,424.35 672.55,424.35 670.10,420.45" fill="none" stroke="#c01818" stroke-width="1.1"/>
<polygon points="684.35,441.55 689.25,441.55 686.80,437.65" fill="none" stroke="#c01818" stroke-width="1.1"/>
<polygon points="701.95,420.35 706.85,420.35 704.40,416.45" fill="none" stroke="#c01818" stroke-width="1.1"/>
<polygon points="719.15,382.45 724.05,382.45 721.60,378.55" fill="none" stroke="#c01818" stroke-width="1.1"/>
<polygon points="752.65,419.55 757.55,419.55 755.10,415.65" fill="none" stroke="#c01818" stroke-width="1.1"/>
<polygon points="769.75,392.15 774.65,392.15 772.20,388.25" fill="none" stroke="#c01818" stroke-width="1.1"/>
<polygon points="786.85,389.25 791.75,389.25 789.30,385.35" fill="none" stroke="#c01818" stroke-width="1.1"/>
<polygon points="803.75,453.25 808.65,453.25 806.20,449.35" fill="none" stroke="#c01818" stroke-width="1.1"/>
<polygon points="854.95,501.45 859.85,501.45 857.40,497.55" fill="none" stroke="#c01818" stroke-width="1.1"/>
</g>
<clipPath id="c2"><rect x="530" y="25" width="390" height="117"/></clipPath>
<g clip-path="url(#c2)" stroke-linejoin="round">
<polyline points="604.4,121.4 612.0,120.2 625.0,118.6 640.0,119.4 650.0,120.0 663.0,121.1 680.0,121.7 690.0,120.8 697.0,120.8 705.0,122.3 720.0,123.6 727.0,123.3 732.0,121.0 740.0,119.0 760.0,118.6 775.0,119.2 800.0,118.7 820.0,120.0 845.0,120.6" fill="none" stroke="#2020a8" stroke-width="1.0" stroke-dasharray="6 8"/>
<polyline points="606.7,118.3 613.3,116.1 624.4,113.3 637.8,112.2 644.4,112.2 655.6,114.1 665.6,115.0 680.0,116.3 705.0,117.5 728.3,118.0 743.3,112.5 759.5,112.5 773.5,115.6 800.0,116.0 847.3,116.2" fill="none" stroke="#2020a8" stroke-width="1.0"/>
<polyline points="608.3,106.7 630.0,111.0 646.0,115.0 660.0,108.5 666.0,108.0 680.0,113.5 695.0,114.5 712.0,104.0 727.0,82.0 741.7,110.0 746.0,118.5 752.0,118.5 766.0,101.0 778.0,82.0 787.0,69.0 797.5,56.5 816.0,107.6 822.0,109.4 830.0,111.0 834.0,108.5 842.0,94.0 849.5,83.3 855.0,84.0 874.6,87.3 892.0,89.5 920.0,92.8" fill="none" stroke="#30d030" stroke-width="1.0" stroke-dasharray="6 8"/>
<polyline points="612.2,100.3 630.0,104.4 647.8,104.4 662.8,100.3 680.0,106.7 697.1,106.0 710.5,98.0 731.7,53.9 749.2,108.8 755.0,102.0 767.0,92.0 783.7,49.3 817.0,102.2 840.7,94.8 851.7,89.2" fill="none" stroke="#30d030" stroke-width="1.0"/>
<polyline points="618.3,90.0 645.6,123.3 653.3,129.4 705.0,129.0 725.4,82.3 737.0,114.0 741.2,121.7 747.0,125.0 772.6,131.0 789.6,81.5 800.7,101.5 807.4,112.6 818.5,122.2 822.5,125.8 840.5,106.0" fill="none" stroke="#c01818" stroke-width="1.0" stroke-dasharray="6 7"/>
<polyline points="617.8,81.9 652.2,126.3 668.9,125.6 675.0,126.7 705.0,127.2 721.5,66.5 723.9,66.5 737.2,69.7 755.0,127.5 772.6,132.8 789.6,79.3 823.7,125.9 840.7,104.6" fill="none" stroke="#c01818" stroke-width="1.1"/>
</g>
<clipPath id="c4"><rect x="530" y="203" width="390" height="117"/></clipPath>
<g clip-path="url(#c4)" stroke-linejoin="round">
<polyline points="531.0,292.2 601.6,302.3" fill="none" stroke="#30d030" stroke-width="1.2" stroke-dasharray="1 5"/>
<polyline points="604.4,289.1 611.0,295.0 620.0,302.0 627.0,305.2 640.0,307.0 660.0,306.8 700.0,307.0 720.0,305.5 735.0,303.5 745.0,306.0 760.0,306.5 780.0,304.5 800.0,304.0 815.0,305.5 830.0,303.0 840.0,299.0 848.0,296.0" fill="none" stroke="#30d030" stroke-width="1.0" stroke-dasharray="1 3"/>
<polyline points="608.2,303.9 614.8,305.9 620.0,307.0 630.0,308.7 660.0,310.0 705.0,309.6 720.0,306.3 730.0,305.2 740.0,307.0 747.0,310.4 765.0,310.0 775.0,305.2 785.0,302.6 795.0,304.0 805.0,305.6 815.0,308.9 833.0,309.8 842.0,300.0 851.8,292.2" fill="none" stroke="#30d030" stroke-width="1.0"/>
<polyline points="606.0,302.5 614.0,305.0 622.0,308.0 632.0,309.5 700.0,309.6 718.0,307.5 728.0,304.5 740.0,307.5 750.0,310.5 770.0,309.6 780.0,305.5 800.0,304.5 812.0,306.5 825.0,310.0 833.0,309.0" fill="none" stroke="#30d030" stroke-width="1.0" stroke-dasharray="6 8"/>
<polyline points="720.0,298.0 728.0,294.1 733.0,297.8 747.0,307.0" fill="none" stroke="#30d030" stroke-width="1.0" stroke-dasharray="5 3"/>
<polyline points="848.0,299.3 880.0,299.6 920.0,300.6" fill="none" stroke="#30d030" stroke-width="1.1" stroke-dasharray="6 8"/>
<polyline points="848.0,301.2 880.0,302.4 920.0,303.7" fill="none" stroke="#30d030" stroke-width="1.1" stroke-dasharray="8 3 1 3 1 3 1 3"/>
<polyline points="605.2,281.3 611.0,288.0 620.0,295.0 630.0,299.0 650.0,301.7 700.0,303.0 720.0,302.0 760.0,302.6 820.0,302.0 835.0,297.0 848.0,290.0" fill="none" stroke="#2020a8" stroke-width="1.0" stroke-dasharray="7 3 1 3 1 3 1 3"/>
<polyline points="607.4,294.3 612.6,297.0 620.0,301.5 630.0,303.3 660.0,304.4 705.0,305.2 720.0,304.0 735.0,302.2 790.0,303.0 820.0,302.6 835.0,300.0 845.0,296.0" fill="none" stroke="#2020a8" stroke-width="1.0"/>
<polyline points="613.3,293.3 623.7,296.5 629.6,298.5 643.3,300.6 660.0,306.4 700.0,306.4 730.0,305.0 760.0,305.5 820.0,305.0 838.0,299.0" fill="none" stroke="#2020a8" stroke-width="1.0" stroke-dasharray="1 4"/>
<polyline points="607.4,298.5 614.8,300.2 630.0,303.0 700.0,304.0 760.0,302.6 820.0,303.0 836.8,297.0 847.8,290.3" fill="none" stroke="#2020a8" stroke-width="1.0" stroke-dasharray="6 8"/>
<polyline points="614.0,295.7 622.2,298.3 630.0,300.4 640.0,302.2 660.0,303.0 705.0,302.2 721.3,296.3 735.0,302.0 760.0,303.7 780.0,302.6 789.0,297.8 810.0,300.7 820.0,302.6 835.0,298.0 838.5,298.6 841.4,302.0 843.0,321.0" fill="none" stroke="#c01818" stroke-width="1.0"/>
<polyline points="608.9,302.4 614.8,304.4 622.2,307.6 630.0,309.4 715.0,309.6 745.0,310.4 765.0,310.4 770.0,308.5 780.0,305.0 810.0,307.4 820.0,309.6 830.0,310.0" fill="none" stroke="#c01818" stroke-width="1.0" stroke-dasharray="7 5"/>
<polyline points="616.0,293.5 630.0,298.0 660.0,302.0 700.0,300.5 707.6,299.0 713.3,293.1 719.0,288.0 725.0,290.2 731.5,293.8 737.3,295.3 743.0,298.2 760.0,301.5 790.0,300.5 820.0,300.5 835.0,299.0" fill="none" stroke="#c01818" stroke-width="1.0" stroke-dasharray="1 6"/>
<polyline points="820.0,303.0 835.0,299.5 841.0,292.0 847.8,270.5 851.8,267.5" fill="none" stroke="#c01818" stroke-width="1.0" stroke-dasharray="6 3 1 3"/>
<polyline points="612.0,300.0 625.0,302.0 640.0,304.0 700.0,304.5 760.0,304.5 800.0,303.5 825.0,303.0 836.0,300.0 839.0,304.0 841.5,320.0" fill="none" stroke="#c01818" stroke-width="1.0" stroke-dasharray="5 3"/>
</g>
<rect x="61" y="24" width="391" height="1" fill="#000"/>
<rect x="61" y="142" width="391" height="1" fill="#000"/>
<rect x="61" y="24" width="1" height="119" fill="#000"/>
<rect x="451" y="24" width="1" height="119" fill="#b01818"/>
<rect x="77" y="25" width="1" height="1" fill="#000"/>
<rect x="77" y="141" width="1" height="1" fill="#000"/>
<rect x="93" y="25" width="1" height="1" fill="#000"/>
<rect x="93" y="141" width="1" height="1" fill="#000"/>
<rect x="110" y="25" width="1" height="1" fill="#000"/>
<rect x="110" y="141" width="1" height="1" fill="#000"/>
<rect x="126" y="25" width="1" height="1" fill="#000"/>
<rect x="126" y="141" width="1" height="1" fill="#000"/>
<rect x="142" y="25" width="1" height="1" fill="#000"/>
<rect x="142" y="141" width="1" height="1" fill="#000"/>
<rect x="158" y="25" width="1" height="2" fill="#000"/>
<rect x="158" y="140" width="1" height="2" fill="#000"/>
<rect x="175" y="25" width="1" height="1" fill="#000"/>
<rect x="175" y="141" width="1" height="1" fill="#000"/>
<rect x="191" y="25" width="1" height="1" fill="#000"/>
<rect x="191" y="141" width="1" height="1" fill="#000"/>
<rect x="207" y="25" width="1" height="1" fill="#000"/>
<rect x="207" y="141" width="1" height="1" fill="#000"/>
<rect x="223" y="25" width="1" height="1" fill="#000"/>
<rect x="223" y="141" width="1" height="1" fill="#000"/>
<rect x="240" y="25" width="1" height="1" fill="#000"/>
<rect x="240" y="141" width="1" height="1" fill="#000"/>
<rect x="256" y="25" width="1" height="2" fill="#000"/>
<rect x="256" y="140" width="1" height="2" fill="#000"/>
<rect x="272" y="25" width="1" height="1" fill="#000"/>
<rect x="272" y="141" width="1" height="1" fill="#000"/>
<rect x="288" y="25" width="1" height="1" fill="#000"/>
<rect x="288" y="141" width="1" height="1" fill="#000"/>
<rect x="305" y="25" width="1" height="1" fill="#000"/>
<rect x="305" y="141" width="1" height="1" fill="#000"/>
<rect x="321" y="25" width="1" height="1" fill="#000"/>
<rect x="321" y="141" width="1" height="1" fill="#000"/>
<rect x="337" y="25" width="1" height="1" fill="#000"/>
<rect x="337" y="141" width="1" height="1" fill="#000"/>
<rect x="353" y="25" width="1" height="2" fill="#000"/>
<rect x="353" y="140" width="1" height="2" fill="#000"/>
<rect x="370" y="25" width="1" height="1" fill="#000"/>
<rect x="370" y="141" width="1" height="1" fill="#000"/>
<rect x="386" y="25" width="1" height="1" fill="#000"/>
<rect x="386" y="141" width="1" height="1" fill="#000"/>
<rect x="402" y="25" width="1" height="1" fill="#000"/>
<rect x="402" y="141" width="1" height="1" fill="#000"/>
<rect x="418" y="25" width="1" height="1" fill="#000"/>
<rect x="418" y="141" width="1" height="1" fill="#000"/>
<rect x="435" y="25" width="1" height="1" fill="#000"/>
<rect x="435" y="141" width="1" height="1" fill="#000"/>
<rect x="62" y="54" width="7" height="1" fill="#000"/>
<rect x="62" y="83" width="7" height="1" fill="#000"/>
<rect x="62" y="112" width="7" height="1" fill="#000"/>
<rect x="443" y="24" width="8" height="1" fill="#b01818"/>
<rect x="443" y="54" width="8" height="1" fill="#b01818"/>
<rect x="443" y="83" width="8" height="1" fill="#b01818"/>
<rect x="443" y="112" width="8" height="1" fill="#b01818"/>
<rect x="443" y="142" width="8" height="1" fill="#b01818"/>
<text x="55.36" y="157.90" font-size="10.4" fill="#000">18</text>
<text x="155.90" y="157.90" font-size="10.4" fill="#000">0</text>
<text x="253.38" y="157.90" font-size="10.4" fill="#000">6</text>
<text x="347.90" y="157.90" font-size="10.4" fill="#000">12</text>
<text x="445.36" y="157.90" font-size="10.4" fill="#000">18</text>
<text x="38.50" y="31.90" font-size="10.8" fill="#000" textLength="18.94" lengthAdjust="spacingAndGlyphs">100</text>
<text x="44.95" y="58.40" font-size="10.8" fill="#000" textLength="12.50" lengthAdjust="spacingAndGlyphs">50</text>
<text x="50.99" y="87.90" font-size="10.8" fill="#000" textLength="6.46" lengthAdjust="spacingAndGlyphs">0</text>
<text x="36.89" y="117.40" font-size="10.8" fill="#000" textLength="20.58" lengthAdjust="spacingAndGlyphs">−50</text>
<text x="30.86" y="142.90" font-size="10.8" fill="#000" textLength="26.58" lengthAdjust="spacingAndGlyphs">−100</text>
<text x="454.75" y="31.90" font-size="10.8" fill="#c41c1c" textLength="18.32" lengthAdjust="spacingAndGlyphs">400</text>
<text x="454.44" y="58.40" font-size="10.8" fill="#c41c1c" textLength="18.64" lengthAdjust="spacingAndGlyphs">200</text>
<text x="454.54" y="87.90" font-size="10.8" fill="#c41c1c" textLength="6.46" lengthAdjust="spacingAndGlyphs">0</text>
<text x="454.41" y="117.40" font-size="10.8" fill="#c41c1c" textLength="26.58" lengthAdjust="spacingAndGlyphs">−200</text>
<text x="454.41" y="142.90" font-size="10.8" fill="#c41c1c" textLength="26.58" lengthAdjust="spacingAndGlyphs">−400</text>
<rect x="529" y="24" width="392" height="1" fill="#000"/>
<rect x="529" y="142" width="392" height="1" fill="#000"/>
<rect x="529" y="24" width="1" height="119" fill="#000"/>
<rect x="920" y="24" width="1" height="119" fill="#22229a"/>
<rect x="545" y="25" width="1" height="1" fill="#000"/>
<rect x="545" y="141" width="1" height="1" fill="#000"/>
<rect x="561" y="25" width="1" height="1" fill="#000"/>
<rect x="561" y="141" width="1" height="1" fill="#000"/>
<rect x="578" y="25" width="1" height="1" fill="#000"/>
<rect x="578" y="141" width="1" height="1" fill="#000"/>
<rect x="594" y="25" width="1" height="1" fill="#000"/>
<rect x="594" y="141" width="1" height="1" fill="#000"/>
<rect x="610" y="25" width="1" height="1" fill="#000"/>
<rect x="610" y="141" width="1" height="1" fill="#000"/>
<rect x="627" y="25" width="1" height="2" fill="#000"/>
<rect x="627" y="140" width="1" height="2" fill="#000"/>
<rect x="643" y="25" width="1" height="1" fill="#000"/>
<rect x="643" y="141" width="1" height="1" fill="#000"/>
<rect x="659" y="25" width="1" height="1" fill="#000"/>
<rect x="659" y="141" width="1" height="1" fill="#000"/>
<rect x="675" y="25" width="1" height="1" fill="#000"/>
<rect x="675" y="141" width="1" height="1" fill="#000"/>
<rect x="692" y="25" width="1" height="1" fill="#000"/>
<rect x="692" y="141" width="1" height="1" fill="#000"/>
<rect x="708" y="25" width="1" height="1" fill="#000"/>
<rect x="708" y="141" width="1" height="1" fill="#000"/>
<rect x="724" y="25" width="1" height="2" fill="#000"/>
<rect x="724" y="140" width="1" height="2" fill="#000"/>
<rect x="741" y="25" width="1" height="1" fill="#000"/>
<rect x="741" y="141" width="1" height="1" fill="#000"/>
<rect x="757" y="25" width="1" height="1" fill="#000"/>
<rect x="757" y="141" width="1" height="1" fill="#000"/>
<rect x="773" y="25" width="1" height="1" fill="#000"/>
<rect x="773" y="141" width="1" height="1" fill="#000"/>
<rect x="789" y="25" width="1" height="1" fill="#000"/>
<rect x="789" y="141" width="1" height="1" fill="#000"/>
<rect x="806" y="25" width="1" height="1" fill="#000"/>
<rect x="806" y="141" width="1" height="1" fill="#000"/>
<rect x="822" y="25" width="1" height="2" fill="#000"/>
<rect x="822" y="140" width="1" height="2" fill="#000"/>
<rect x="838" y="25" width="1" height="1" fill="#000"/>
<rect x="838" y="141" width="1" height="1" fill="#000"/>
<rect x="855" y="25" width="1" height="1" fill="#000"/>
<rect x="855" y="141" width="1" height="1" fill="#000"/>
<rect x="871" y="25" width="1" height="1" fill="#000"/>
<rect x="871" y="141" width="1" height="1" fill="#000"/>
<rect x="887" y="25" width="1" height="1" fill="#000"/>
<rect x="887" y="141" width="1" height="1" fill="#000"/>
<rect x="903" y="25" width="1" height="1" fill="#000"/>
<rect x="903" y="141" width="1" height="1" fill="#000"/>
<rect x="530" y="48" width="7" height="1" fill="#000"/>
<rect x="530" y="71" width="7" height="1" fill="#000"/>
<rect x="530" y="95" width="7" height="1" fill="#000"/>
<rect x="530" y="118" width="7" height="1" fill="#000"/>
<rect x="912" y="24" width="8" height="1" fill="#22229a"/>
<rect x="912" y="48" width="8" height="1" fill="#22229a"/>
<rect x="912" y="71" width="8" height="1" fill="#22229a"/>
<rect x="912" y="95" width="8" height="1" fill="#22229a"/>
<rect x="912" y="118" width="8" height="1" fill="#22229a"/>
<rect x="912" y="142" width="8" height="1" fill="#22229a"/>
<text x="523.36" y="157.90" font-size="10.4" fill="#000">18</text>
<text x="624.15" y="157.90" font-size="10.4" fill="#000">0</text>
<text x="721.88" y="157.90" font-size="10.4" fill="#000">6</text>
<text x="816.65" y="157.90" font-size="10.4" fill="#000">12</text>
<text x="914.36" y="157.90" font-size="10.4" fill="#000">18</text>
<text x="507.50" y="31.90" font-size="10.8" fill="#000" textLength="18.94" lengthAdjust="spacingAndGlyphs">100</text>
<text x="513.92" y="52.50" font-size="10.8" fill="#000" textLength="12.53" lengthAdjust="spacingAndGlyphs">80</text>
<text x="513.83" y="76.10" font-size="10.8" fill="#000" textLength="12.62" lengthAdjust="spacingAndGlyphs">60</text>
<text x="514.15" y="99.70" font-size="10.8" fill="#000" textLength="12.29" lengthAdjust="spacingAndGlyphs">40</text>
<text x="513.83" y="123.30" font-size="10.8" fill="#000" textLength="12.62" lengthAdjust="spacingAndGlyphs">20</text>
<text x="519.99" y="142.90" font-size="10.8" fill="#000" textLength="6.46" lengthAdjust="spacingAndGlyphs">0</text>
<text x="922.63" y="31.90" font-size="10.8" fill="#24249c" textLength="12.65" lengthAdjust="spacingAndGlyphs">25</text>
<text x="922.63" y="52.50" font-size="10.8" fill="#24249c" textLength="12.62" lengthAdjust="spacingAndGlyphs">20</text>
<text x="922.33" y="76.10" font-size="10.8" fill="#24249c" textLength="12.97" lengthAdjust="spacingAndGlyphs">15</text>
<text x="922.33" y="99.70" font-size="10.8" fill="#24249c" textLength="12.94" lengthAdjust="spacingAndGlyphs">10</text>
<text x="922.73" y="123.30" font-size="10.8" fill="#24249c" textLength="6.50" lengthAdjust="spacingAndGlyphs">5</text>
<text x="922.74" y="142.90" font-size="10.8" fill="#24249c" textLength="6.46" lengthAdjust="spacingAndGlyphs">0</text>
<rect x="61" y="202" width="391" height="1" fill="#000"/>
<rect x="61" y="320" width="391" height="1" fill="#000"/>
<rect x="61" y="202" width="1" height="119" fill="#000"/>
<rect x="451" y="202" width="1" height="119" fill="#b01818"/>
<rect x="77" y="203" width="1" height="1" fill="#000"/>
<rect x="77" y="319" width="1" height="1" fill="#000"/>
<rect x="93" y="203" width="1" height="1" fill="#000"/>
<rect x="93" y="319" width="1" height="1" fill="#000"/>
<rect x="110" y="203" width="1" height="1" fill="#000"/>
<rect x="110" y="319" width="1" height="1" fill="#000"/>
<rect x="126" y="203" width="1" height="1" fill="#000"/>
<rect x="126" y="319" width="1" height="1" fill="#000"/>
<rect x="142" y="203" width="1" height="1" fill="#000"/>
<rect x="142" y="319" width="1" height="1" fill="#000"/>
<rect x="158" y="203" width="1" height="2" fill="#000"/>
<rect x="158" y="318" width="1" height="2" fill="#000"/>
<rect x="175" y="203" width="1" height="1" fill="#000"/>
<rect x="175" y="319" width="1" height="1" fill="#000"/>
<rect x="191" y="203" width="1" height="1" fill="#000"/>
<rect x="191" y="319" width="1" height="1" fill="#000"/>
<rect x="207" y="203" width="1" height="1" fill="#000"/>
<rect x="207" y="319" width="1" height="1" fill="#000"/>
<rect x="223" y="203" width="1" height="1" fill="#000"/>
<rect x="223" y="319" width="1" height="1" fill="#000"/>
<rect x="240" y="203" width="1" height="1" fill="#000"/>
<rect x="240" y="319" width="1" height="1" fill="#000"/>
<rect x="256" y="203" width="1" height="2" fill="#000"/>
<rect x="256" y="318" width="1" height="2" fill="#000"/>
<rect x="272" y="203" width="1" height="1" fill="#000"/>
<rect x="272" y="319" width="1" height="1" fill="#000"/>
<rect x="288" y="203" width="1" height="1" fill="#000"/>
<rect x="288" y="319" width="1" height="1" fill="#000"/>
<rect x="305" y="203" width="1" height="1" fill="#000"/>
<rect x="305" y="319" width="1" height="1" fill="#000"/>
<rect x="321" y="203" width="1" height="1" fill="#000"/>
<rect x="321" y="319" width="1" height="1" fill="#000"/>
<rect x="337" y="203" width="1" height="1" fill="#000"/>
<rect x="337" y="319" width="1" height="1" fill="#000"/>
<rect x="353" y="203" width="1" height="2" fill="#000"/>
<rect x="353" y="318" width="1" height="2" fill="#000"/>
<rect x="370" y="203" width="1" height="1" fill="#000"/>
<rect x="370" y="319" width="1" height="1" fill="#000"/>
<rect x="386" y="203" width="1" height="1" fill="#000"/>
<rect x="386" y="319" width="1" height="1" fill="#000"/>
<rect x="402" y="203" width="1" height="1" fill="#000"/>
<rect x="402" y="319" width="1" height="1" fill="#000"/>
<rect x="418" y="203" width="1" height="1" fill="#000"/>
<rect x="418" y="319" width="1" height="1" fill="#000"/>
<rect x="435" y="203" width="1" height="1" fill="#000"/>
<rect x="435" y="319" width="1" height="1" fill="#000"/>
<rect x="62" y="232" width="7" height="1" fill="#000"/>
<rect x="62" y="261" width="7" height="1" fill="#000"/>
<rect x="62" y="290" width="7" height="1" fill="#000"/>
<rect x="443" y="202" width="8" height="1" fill="#b01818"/>
<rect x="443" y="232" width="8" height="1" fill="#b01818"/>
<rect x="443" y="261" width="8" height="1" fill="#b01818"/>
<rect x="443" y="290" width="8" height="1" fill="#b01818"/>
<rect x="443" y="320" width="8" height="1" fill="#b01818"/>
<text x="55.36" y="335.90" font-size="10.4" fill="#000">18</text>
<text x="155.90" y="335.90" font-size="10.4" fill="#000">0</text>
<text x="253.38" y="335.90" font-size="10.4" fill="#000">6</text>
<text x="347.90" y="335.90" font-size="10.4" fill="#000">12</text>
<text x="445.36" y="335.90" font-size="10.4" fill="#000">18</text>
<text x="38.50" y="209.90" font-size="10.8" fill="#000" textLength="18.94" lengthAdjust="spacingAndGlyphs">100</text>
<text x="44.95" y="236.40" font-size="10.8" fill="#000" textLength="12.50" lengthAdjust="spacingAndGlyphs">50</text>
<text x="50.99" y="265.90" font-size="10.8" fill="#000" textLength="6.46" lengthAdjust="spacingAndGlyphs">0</text>
<text x="36.89" y="295.40" font-size="10.8" fill="#000" textLength="20.58" lengthAdjust="spacingAndGlyphs">−50</text>
<text x="30.86" y="320.90" font-size="10.8" fill="#000" textLength="26.58" lengthAdjust="spacingAndGlyphs">−100</text>
<text x="454.11" y="207.90" font-size="7.3" fill="#c41c1c" textLength="13.92" lengthAdjust="spacingAndGlyphs" font-weight="bold">400</text>
<text x="453.88" y="234.90" font-size="7.3" fill="#c41c1c" textLength="14.17" lengthAdjust="spacingAndGlyphs" font-weight="bold">200</text>
<text x="453.95" y="264.40" font-size="7.3" fill="#c41c1c" textLength="4.91" lengthAdjust="spacingAndGlyphs" font-weight="bold">0</text>
<text x="453.85" y="293.90" font-size="7.3" fill="#c41c1c" textLength="20.20" lengthAdjust="spacingAndGlyphs" font-weight="bold">−200</text>
<text x="453.85" y="320.20" font-size="7.3" fill="#c41c1c" textLength="20.20" lengthAdjust="spacingAndGlyphs" font-weight="bold">−400</text>
<rect x="529" y="202" width="392" height="1" fill="#000"/>
<rect x="529" y="320" width="392" height="1" fill="#000"/>
<rect x="529" y="202" width="1" height="119" fill="#000"/>
<rect x="920" y="202" width="1" height="119" fill="#000"/>
<rect x="545" y="203" width="1" height="1" fill="#000"/>
<rect x="545" y="319" width="1" height="1" fill="#000"/>
<rect x="561" y="203" width="1" height="1" fill="#000"/>
<rect x="561" y="319" width="1" height="1" fill="#000"/>
<rect x="578" y="203" width="1" height="1" fill="#000"/>
<rect x="578" y="319" width="1" height="1" fill="#000"/>
<rect x="594" y="203" width="1" height="1" fill="#000"/>
<rect x="594" y="319" width="1" height="1" fill="#000"/>
<rect x="610" y="203" width="1" height="1" fill="#000"/>
<rect x="610" y="319" width="1" height="1" fill="#000"/>
<rect x="627" y="203" width="1" height="2" fill="#000"/>
<rect x="627" y="318" width="1" height="2" fill="#000"/>
<rect x="643" y="203" width="1" height="1" fill="#000"/>
<rect x="643" y="319" width="1" height="1" fill="#000"/>
<rect x="659" y="203" width="1" height="1" fill="#000"/>
<rect x="659" y="319" width="1" height="1" fill="#000"/>
<rect x="675" y="203" width="1" height="1" fill="#000"/>
<rect x="675" y="319" width="1" height="1" fill="#000"/>
<rect x="692" y="203" width="1" height="1" fill="#000"/>
<rect x="692" y="319" width="1" height="1" fill="#000"/>
<rect x="708" y="203" width="1" height="1" fill="#000"/>
<rect x="708" y="319" width="1" height="1" fill="#000"/>
<rect x="724" y="203" width="1" height="2" fill="#000"/>
<rect x="724" y="318" width="1" height="2" fill="#000"/>
<rect x="741" y="203" width="1" height="1" fill="#000"/>
<rect x="741" y="319" width="1" height="1" fill="#000"/>
<rect x="757" y="203" width="1" height="1" fill="#000"/>
<rect x="757" y="319" width="1" height="1" fill="#000"/>
<rect x="773" y="203" width="1" height="1" fill="#000"/>
<rect x="773" y="319" width="1" height="1" fill="#000"/>
<rect x="789" y="203" width="1" height="1" fill="#000"/>
<rect x="789" y="319" width="1" height="1" fill="#000"/>
<rect x="806" y="203" width="1" height="1" fill="#000"/>
<rect x="806" y="319" width="1" height="1" fill="#000"/>
<rect x="822" y="203" width="1" height="2" fill="#000"/>
<rect x="822" y="318" width="1" height="2" fill="#000"/>
<rect x="838" y="203" width="1" height="1" fill="#000"/>
<rect x="838" y="319" width="1" height="1" fill="#000"/>
<rect x="855" y="203" width="1" height="1" fill="#000"/>
<rect x="855" y="319" width="1" height="1" fill="#000"/>
<rect x="871" y="203" width="1" height="1" fill="#000"/>
<rect x="871" y="319" width="1" height="1" fill="#000"/>
<rect x="887" y="203" width="1" height="1" fill="#000"/>
<rect x="887" y="319" width="1" height="1" fill="#000"/>
<rect x="903" y="203" width="1" height="1" fill="#000"/>
<rect x="903" y="319" width="1" height="1" fill="#000"/>
<rect x="530" y="232" width="7" height="1" fill="#000"/>
<rect x="530" y="261" width="7" height="1" fill="#000"/>
<rect x="530" y="290" width="7" height="1" fill="#000"/>
<rect x="912" y="232" width="8" height="1" fill="#000"/>
<rect x="912" y="261" width="8" height="1" fill="#000"/>
<rect x="912" y="290" width="8" height="1" fill="#000"/>
<text x="523.36" y="335.90" font-size="10.4" fill="#000">18</text>
<text x="624.15" y="335.90" font-size="10.4" fill="#000">0</text>
<text x="721.88" y="335.90" font-size="10.4" fill="#000">6</text>
<text x="816.65" y="335.90" font-size="10.4" fill="#000">12</text>
<text x="914.36" y="335.90" font-size="10.4" fill="#000">18</text>
<text x="514.15" y="209.90" font-size="10.8" fill="#000" textLength="12.29" lengthAdjust="spacingAndGlyphs">40</text>
<text x="513.98" y="236.40" font-size="10.8" fill="#000" textLength="12.47" lengthAdjust="spacingAndGlyphs">30</text>
<text x="513.83" y="265.90" font-size="10.8" fill="#000" textLength="12.62" lengthAdjust="spacingAndGlyphs">20</text>
<text x="513.53" y="295.40" font-size="10.8" fill="#000" textLength="12.94" lengthAdjust="spacingAndGlyphs">10</text>
<text x="519.99" y="320.90" font-size="10.8" fill="#000" textLength="6.46" lengthAdjust="spacingAndGlyphs">0</text>
<rect x="61" y="380" width="391" height="1" fill="#000"/>
<rect x="61" y="498" width="391" height="1" fill="#000"/>
<rect x="61" y="380" width="1" height="119" fill="#000"/>
<rect x="451" y="380" width="1" height="119" fill="#000"/>
<rect x="77" y="381" width="1" height="1" fill="#000"/>
<rect x="77" y="497" width="1" height="1" fill="#000"/>
<rect x="93" y="381" width="1" height="1" fill="#000"/>
<rect x="93" y="497" width="1" height="1" fill="#000"/>
<rect x="110" y="381" width="1" height="1" fill="#000"/>
<rect x="110" y="497" width="1" height="1" fill="#000"/>
<rect x="126" y="381" width="1" height="1" fill="#000"/>
<rect x="126" y="497" width="1" height="1" fill="#000"/>
<rect x="142" y="381" width="1" height="1" fill="#000"/>
<rect x="142" y="497" width="1" height="1" fill="#000"/>
<rect x="158" y="381" width="1" height="2" fill="#000"/>
<rect x="158" y="496" width="1" height="2" fill="#000"/>
<rect x="175" y="381" width="1" height="1" fill="#000"/>
<rect x="175" y="497" width="1" height="1" fill="#000"/>
<rect x="191" y="381" width="1" height="1" fill="#000"/>
<rect x="191" y="497" width="1" height="1" fill="#000"/>
<rect x="207" y="381" width="1" height="1" fill="#000"/>
<rect x="207" y="497" width="1" height="1" fill="#000"/>
<rect x="223" y="381" width="1" height="1" fill="#000"/>
<rect x="223" y="497" width="1" height="1" fill="#000"/>
<rect x="240" y="381" width="1" height="1" fill="#000"/>
<rect x="240" y="497" width="1" height="1" fill="#000"/>
<rect x="256" y="381" width="1" height="2" fill="#000"/>
<rect x="256" y="496" width="1" height="2" fill="#000"/>
<rect x="272" y="381" width="1" height="1" fill="#000"/>
<rect x="272" y="497" width="1" height="1" fill="#000"/>
<rect x="288" y="381" width="1" height="1" fill="#000"/>
<rect x="288" y="497" width="1" height="1" fill="#000"/>
<rect x="305" y="381" width="1" height="1" fill="#000"/>
<rect x="305" y="497" width="1" height="1" fill="#000"/>
<rect x="321" y="381" width="1" height="1" fill="#000"/>
<rect x="321" y="497" width="1" height="1" fill="#000"/>
<rect x="337" y="381" width="1" height="1" fill="#000"/>
<rect x="337" y="497" width="1" height="1" fill="#000"/>
<rect x="353" y="381" width="1" height="2" fill="#000"/>
<rect x="353" y="496" width="1" height="2" fill="#000"/>
<rect x="370" y="381" width="1" height="1" fill="#000"/>
<rect x="370" y="497" width="1" height="1" fill="#000"/>
<rect x="386" y="381" width="1" height="1" fill="#000"/>
<rect x="386" y="497" width="1" height="1" fill="#000"/>
<rect x="402" y="381" width="1" height="1" fill="#000"/>
<rect x="402" y="497" width="1" height="1" fill="#000"/>
<rect x="418" y="381" width="1" height="1" fill="#000"/>
<rect x="418" y="497" width="1" height="1" fill="#000"/>
<rect x="435" y="381" width="1" height="1" fill="#000"/>
<rect x="435" y="497" width="1" height="1" fill="#000"/>
<rect x="62" y="410" width="7" height="1" fill="#000"/>
<rect x="62" y="439" width="7" height="1" fill="#000"/>
<rect x="62" y="468" width="7" height="1" fill="#000"/>
<rect x="443" y="410" width="8" height="1" fill="#000"/>
<rect x="443" y="439" width="8" height="1" fill="#000"/>
<rect x="443" y="468" width="8" height="1" fill="#000"/>
<text x="55.36" y="513.90" font-size="10.4" fill="#000">18</text>
<text x="155.90" y="513.90" font-size="10.4" fill="#000">0</text>
<text x="253.38" y="513.90" font-size="10.4" fill="#000">6</text>
<text x="347.90" y="513.90" font-size="10.4" fill="#000">12</text>
<text x="445.36" y="513.90" font-size="10.4" fill="#000">18</text>
<text x="38.50" y="387.90" font-size="10.8" fill="#000" textLength="18.94" lengthAdjust="spacingAndGlyphs">100</text>
<text x="44.95" y="414.40" font-size="10.8" fill="#000" textLength="12.50" lengthAdjust="spacingAndGlyphs">50</text>
<text x="50.99" y="443.90" font-size="10.8" fill="#000" textLength="6.46" lengthAdjust="spacingAndGlyphs">0</text>
<text x="36.89" y="473.40" font-size="10.8" fill="#000" textLength="20.58" lengthAdjust="spacingAndGlyphs">−50</text>
<text x="30.86" y="498.90" font-size="10.8" fill="#000" textLength="26.58" lengthAdjust="spacingAndGlyphs">−100</text>
<rect x="529" y="380" width="392" height="1" fill="#000"/>
<rect x="529" y="498" width="392" height="1" fill="#000"/>
<rect x="529" y="380" width="1" height="119" fill="#000"/>
<rect x="920" y="380" width="1" height="119" fill="#000"/>
<rect x="545" y="381" width="1" height="1" fill="#000"/>
<rect x="545" y="497" width="1" height="1" fill="#000"/>
<rect x="561" y="381" width="1" height="1" fill="#000"/>
<rect x="561" y="497" width="1" height="1" fill="#000"/>
<rect x="578" y="381" width="1" height="1" fill="#000"/>
<rect x="578" y="497" width="1" height="1" fill="#000"/>
<rect x="594" y="381" width="1" height="1" fill="#000"/>
<rect x="594" y="497" width="1" height="1" fill="#000"/>
<rect x="610" y="381" width="1" height="1" fill="#000"/>
<rect x="610" y="497" width="1" height="1" fill="#000"/>
<rect x="627" y="381" width="1" height="2" fill="#000"/>
<rect x="627" y="496" width="1" height="2" fill="#000"/>
<rect x="643" y="381" width="1" height="1" fill="#000"/>
<rect x="643" y="497" width="1" height="1" fill="#000"/>
<rect x="659" y="381" width="1" height="1" fill="#000"/>
<rect x="659" y="497" width="1" height="1" fill="#000"/>
<rect x="675" y="381" width="1" height="1" fill="#000"/>
<rect x="675" y="497" width="1" height="1" fill="#000"/>
<rect x="692" y="381" width="1" height="1" fill="#000"/>
<rect x="692" y="497" width="1" height="1" fill="#000"/>
<rect x="708" y="381" width="1" height="1" fill="#000"/>
<rect x="708" y="497" width="1" height="1" fill="#000"/>
<rect x="724" y="381" width="1" height="2" fill="#000"/>
<rect x="724" y="496" width="1" height="2" fill="#000"/>
<rect x="741" y="381" width="1" height="1" fill="#000"/>
<rect x="741" y="497" width="1" height="1" fill="#000"/>
<rect x="757" y="381" width="1" height="1" fill="#000"/>
<rect x="757" y="497" width="1" height="1" fill="#000"/>
<rect x="773" y="381" width="1" height="1" fill="#000"/>
<rect x="773" y="497" width="1" height="1" fill="#000"/>
<rect x="789" y="381" width="1" height="1" fill="#000"/>
<rect x="789" y="497" width="1" height="1" fill="#000"/>
<rect x="806" y="381" width="1" height="1" fill="#000"/>
<rect x="806" y="497" width="1" height="1" fill="#000"/>
<rect x="822" y="381" width="1" height="2" fill="#000"/>
<rect x="822" y="496" width="1" height="2" fill="#000"/>
<rect x="838" y="381" width="1" height="1" fill="#000"/>
<rect x="838" y="497" width="1" height="1" fill="#000"/>
<rect x="855" y="381" width="1" height="1" fill="#000"/>
<rect x="855" y="497" width="1" height="1" fill="#000"/>
<rect x="871" y="381" width="1" height="1" fill="#000"/>
<rect x="871" y="497" width="1" height="1" fill="#000"/>
<rect x="887" y="381" width="1" height="1" fill="#000"/>
<rect x="887" y="497" width="1" height="1" fill="#000"/>
<rect x="903" y="381" width="1" height="1" fill="#000"/>
<rect x="903" y="497" width="1" height="1" fill="#000"/>
<rect x="530" y="410" width="7" height="1" fill="#000"/>
<rect x="530" y="439" width="7" height="1" fill="#000"/>
<rect x="530" y="468" width="7" height="1" fill="#000"/>
<rect x="912" y="410" width="8" height="1" fill="#000"/>
<rect x="912" y="439" width="8" height="1" fill="#000"/>
<rect x="912" y="468" width="8" height="1" fill="#000"/>
<text x="523.36" y="513.90" font-size="10.4" fill="#000">18</text>
<text x="624.15" y="513.90" font-size="10.4" fill="#000">0</text>
<text x="721.88" y="513.90" font-size="10.4" fill="#000">6</text>
<text x="816.65" y="513.90" font-size="10.4" fill="#000">12</text>
<text x="914.36" y="513.90" font-size="10.4" fill="#000">18</text>
<text x="513.83" y="387.90" font-size="10.8" fill="#000" textLength="12.62" lengthAdjust="spacingAndGlyphs">20</text>
<text x="513.53" y="414.40" font-size="10.8" fill="#000" textLength="12.94" lengthAdjust="spacingAndGlyphs">10</text>
<text x="519.99" y="443.90" font-size="10.8" fill="#000" textLength="6.46" lengthAdjust="spacingAndGlyphs">0</text>
<text x="505.89" y="473.40" font-size="10.8" fill="#000" textLength="20.58" lengthAdjust="spacingAndGlyphs">−10</text>
<text x="505.89" y="498.90" font-size="10.8" fill="#000" textLength="20.58" lengthAdjust="spacingAndGlyphs">−20</text>
<text x="119.72" y="18.70" font-size="12.4" fill="#000" textLength="51.66" lengthAdjust="spacingAndGlyphs">Resolute</text>
<text x="178.91" y="18.70" font-size="12.4" fill="#000" textLength="61.17" lengthAdjust="spacingAndGlyphs">Meridional</text>
<text x="246.24" y="18.70" font-size="12.4" fill="#000" textLength="34.20" lengthAdjust="spacingAndGlyphs">Winds</text>
<text x="285.39" y="18.70" font-size="12.4" fill="#000" textLength="9.24" lengthAdjust="spacingAndGlyphs">Δ</text>
<text x="299.14" y="18.70" font-size="12.4" fill="#000" textLength="38.45" lengthAdjust="spacingAndGlyphs">North,</text>
<text x="344.96" y="18.70" font-size="12.4" fill="#000" textLength="9.26" lengthAdjust="spacingAndGlyphs">□</text>
<text x="356.90" y="18.70" font-size="12.4" fill="#000" textLength="34.74" lengthAdjust="spacingAndGlyphs">South</text>
<text x="139.56" y="196.80" font-size="12.4" fill="#000" textLength="33.84" lengthAdjust="spacingAndGlyphs">Zonal</text>
<text x="179.34" y="196.80" font-size="12.4" fill="#000" textLength="34.20" lengthAdjust="spacingAndGlyphs">Winds</text>
<text x="219.63" y="196.80" font-size="12.4" fill="#000" textLength="8.25" lengthAdjust="spacingAndGlyphs">Δ</text>
<text x="232.77" y="196.80" font-size="12.4" fill="#000" textLength="31.29" lengthAdjust="spacingAndGlyphs">East,</text>
<text x="271.37" y="196.80" font-size="12.4" fill="#000" textLength="8.36" lengthAdjust="spacingAndGlyphs">□</text>
<text x="283.04" y="196.80" font-size="12.4" fill="#000" textLength="27.55" lengthAdjust="spacingAndGlyphs">West</text>
<text x="317.59" y="196.80" font-size="12.4" fill="#000" textLength="55.22" lengthAdjust="spacingAndGlyphs">2005308</text>
<text x="173.83" y="374.70" font-size="12.4" fill="#000" textLength="45.19" lengthAdjust="spacingAndGlyphs">Vertical</text>
<text x="225.14" y="374.70" font-size="12.4" fill="#000" textLength="34.71" lengthAdjust="spacingAndGlyphs">Winds</text>
<text x="265.76" y="374.70" font-size="12.4" fill="#000" textLength="72.24" lengthAdjust="spacingAndGlyphs">11/4/2005</text>
<text x="670.89" y="18.80" font-size="12.4" fill="#000" textLength="37.52" lengthAdjust="spacingAndGlyphs">Signal</text>
<text x="713.62" y="18.80" font-size="12.4" fill="#000" textLength="64.96" lengthAdjust="spacingAndGlyphs">Brightness</text>
<text x="684.58" y="196.70" font-size="12.4" fill="#000" textLength="79.19" lengthAdjust="spacingAndGlyphs">Backgrounds</text>
<text x="680.17" y="374.90" font-size="12.4" fill="#000" textLength="47.50" lengthAdjust="spacingAndGlyphs">Average</text>
<text x="735.34" y="374.90" font-size="12.4" fill="#000" textLength="33.29" lengthAdjust="spacingAndGlyphs">Winds</text>
<text x="238.04" y="526.90" font-size="11.2" fill="#000" textLength="12.17" lengthAdjust="spacingAndGlyphs">UT</text>
<text x="254.21" y="526.90" font-size="11.2" fill="#000" textLength="19.65" lengthAdjust="spacingAndGlyphs">(hr)</text>
<text x="706.20" y="526.90" font-size="11.2" fill="#000" textLength="12.11" lengthAdjust="spacingAndGlyphs">UT</text>
<text x="723.63" y="526.90" font-size="11.2" fill="#000" textLength="19.22" lengthAdjust="spacingAndGlyphs">(hr)</text>
<text x="22.00" y="94.74" font-size="10.2" fill="#000" textLength="22.44" lengthAdjust="spacingAndGlyphs" transform="rotate(-90 22.00 94.74)">m/s</text>
<text x="22.00" y="272.74" font-size="10.2" fill="#000" textLength="22.44" lengthAdjust="spacingAndGlyphs" transform="rotate(-90 22.00 272.74)">m/s</text>
<text x="22.00" y="450.74" font-size="10.2" fill="#000" textLength="22.44" lengthAdjust="spacingAndGlyphs" transform="rotate(-90 22.00 450.74)">m/s</text>
<text x="498.00" y="450.62" font-size="10.2" fill="#000" textLength="21.91" lengthAdjust="spacingAndGlyphs" transform="rotate(-90 498.00 450.62)">m/s</text>
<text x="493.60" y="109.63" font-size="11.0" fill="#c41c1c" textLength="51.68" lengthAdjust="spacingAndGlyphs" transform="rotate(-90 493.60 109.63)">6300 m/s</text>
<text x="482.00" y="281.27" font-size="7.9" fill="#c41c1c" textLength="38.71" lengthAdjust="spacingAndGlyphs" transform="rotate(-90 482.00 281.27)" font-weight="bold">6300 m/s</text>
<text x="77.32" y="36.30" font-size="11.7" fill="#24249c" textLength="30.32" lengthAdjust="spacingAndGlyphs">8920</text>
<text x="112.89" y="36.30" font-size="11.7" fill="#24249c" textLength="35.05" lengthAdjust="spacingAndGlyphs">(blue)</text>
<text x="191.21" y="36.30" font-size="11.7" fill="#3ad23a" textLength="30.31" lengthAdjust="spacingAndGlyphs">5577</text>
<text x="226.95" y="36.30" font-size="11.7" fill="#3ad23a" textLength="43.88" lengthAdjust="spacingAndGlyphs">(green)</text>
<text x="353.72" y="36.30" font-size="11.7" fill="#c41c1c" textLength="30.32" lengthAdjust="spacingAndGlyphs">6300</text>
<text x="389.38" y="36.30" font-size="11.7" fill="#c41c1c" textLength="30.91" lengthAdjust="spacingAndGlyphs">(red)</text>
<rect x="545.5" y="33" width="1" height="1" fill="#000"/>
<rect x="550.4" y="33" width="1" height="1" fill="#000"/>
<rect x="555.3" y="33" width="1" height="1" fill="#000"/>
<rect x="560.2" y="33" width="1" height="1" fill="#000"/>
<rect x="565.1" y="33" width="1" height="1" fill="#000"/>
<rect x="570.0" y="33" width="1" height="1" fill="#000"/>
<rect x="545" y="48" width="28" height="1" fill="#000"/>
<text x="580.45" y="39.60" font-size="10.3" fill="#000" textLength="30.36" lengthAdjust="spacingAndGlyphs">Zenith</text>
<text x="580.07" y="53.70" font-size="10.3" fill="#000" textLength="26.71" lengthAdjust="spacingAndGlyphs">NSWE</text>
<text x="611.97" y="53.70" font-size="10.3" fill="#000" textLength="38.48" lengthAdjust="spacingAndGlyphs">Average</text>
<text x="822.08" y="42.70" font-size="15.3" fill="#24249c" textLength="37.90" lengthAdjust="spacingAndGlyphs">8920</text>
<rect x="545" y="211" width="9" height="1" fill="#000"/>
<rect x="557" y="211" width="1" height="1" fill="#000"/>
<rect x="560" y="211" width="1" height="1" fill="#000"/>
<rect x="564" y="211" width="1" height="1" fill="#000"/>
<rect x="568" y="211" width="6" height="1" fill="#000"/>
<text x="580.99" y="217.60" font-size="10.3" fill="#000" textLength="4.85" lengthAdjust="spacingAndGlyphs">Z</text>
<rect x="600" y="211" width="28" height="1" fill="#000"/>
<text x="634.80" y="217.60" font-size="10.3" fill="#000" textLength="7.00" lengthAdjust="spacingAndGlyphs">N</text>
<rect x="601" y="226" width="1" height="1" fill="#000"/>
<rect x="605" y="226" width="1" height="1" fill="#000"/>
<rect x="609" y="226" width="1" height="1" fill="#000"/>
<rect x="614" y="226" width="1" height="1" fill="#000"/>
<rect x="618" y="226" width="1" height="1" fill="#000"/>
<rect x="623" y="226" width="1" height="1" fill="#000"/>
<rect x="627" y="226" width="1" height="1" fill="#000"/>
<text x="634.75" y="232.00" font-size="10.3" fill="#000" textLength="6.70" lengthAdjust="spacingAndGlyphs">S</text>
<rect x="654" y="211" width="7" height="1" fill="#000"/>
<rect x="668" y="211" width="7" height="1" fill="#000"/>
<rect x="682" y="211" width="1" height="1" fill="#000"/>
<text x="689.86" y="217.60" font-size="10.3" fill="#000" textLength="6.86" lengthAdjust="spacingAndGlyphs">W</text>
<rect x="654" y="226" width="7" height="1" fill="#000"/>
<rect x="664" y="226" width="1" height="1" fill="#000"/>
<rect x="668" y="226" width="7" height="1" fill="#000"/>
<rect x="678" y="226" width="1" height="1" fill="#000"/>
<rect x="682" y="226" width="1" height="1" fill="#000"/>
<text x="689.11" y="231.70" font-size="10.3" fill="#000" textLength="6.39" lengthAdjust="spacingAndGlyphs">E</text>
<clipPath id="c2b"><rect x="530" y="25" width="390" height="117"/></clipPath>
<polyline points="840.7,104.6 856,18" fill="none" stroke="#c8141a" stroke-width="1.6" clip-path="url(#c2b)"/>
</svg>
</body></html>
